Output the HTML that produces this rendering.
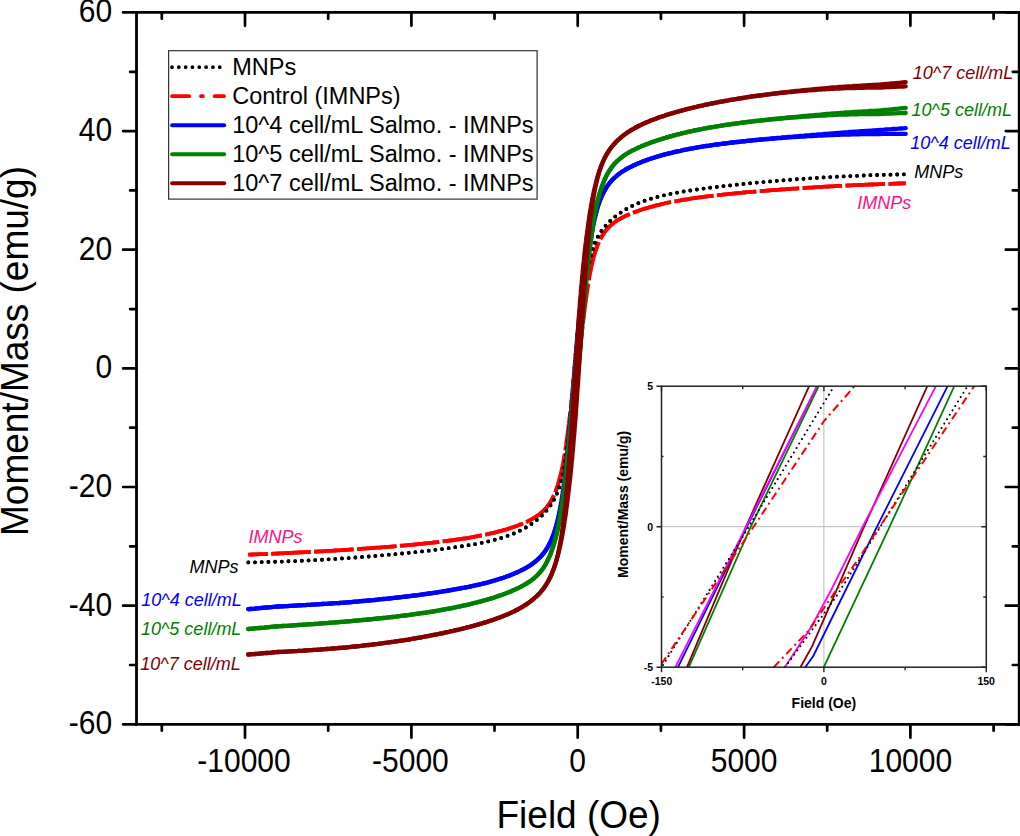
<!DOCTYPE html>
<html><head><meta charset="utf-8"><style>
html,body{margin:0;padding:0;background:#fff;}
svg{display:block;}
text{font-family:"Liberation Sans",sans-serif;}
</style></head><body>
<svg width="1020" height="836" viewBox="0 0 1020 836">
<rect x="0" y="0" width="1020" height="836" fill="#fff"/>

<path d="M123.1 724.3H136.5M1005.8 724.3H1019.2M130.1 665H136.5M1012.8 665H1019.2M123.1 605.7H136.5M1005.8 605.7H1019.2M130.1 546.4H136.5M1012.8 546.4H1019.2M123.1 487H136.5M1005.8 487H1019.2M130.1 427.7H136.5M1012.8 427.7H1019.2M123.1 368.4H136.5M1005.8 368.4H1019.2M130.1 309.1H136.5M1012.8 309.1H1019.2M123.1 249.7H136.5M1005.8 249.7H1019.2M130.1 190.4H136.5M1012.8 190.4H1019.2M123.1 131.1H136.5M1005.8 131.1H1019.2M130.1 71.8H136.5M1012.8 71.8H1019.2M123.1 12.4H136.5M1005.8 12.4H1019.2M161.8 724.3V730.7M161.8 12.4V18.8M245 724.3V737.7M245 12.4V25.8M328.2 724.3V730.7M328.2 12.4V18.8M411.4 724.3V737.7M411.4 12.4V25.8M494.5 724.3V730.7M494.5 12.4V18.8M577.7 724.3V737.7M577.7 12.4V25.8M660.9 724.3V730.7M660.9 12.4V18.8M744.1 724.3V737.7M744.1 12.4V25.8M827.2 724.3V730.7M827.2 12.4V18.8M910.4 724.3V737.7M910.4 12.4V25.8M993.6 724.3V730.7M993.6 12.4V18.8" stroke="#000" stroke-width="2.7" stroke-linecap="round" fill="none"/>
<path d="M136.5 12.4H1019.2V724.3H136.5Z" stroke="#000" stroke-width="2.8" fill="none"/>
<g font-size="30" fill="#000" text-anchor="end">
<text transform="translate(112.2 734.1) scale(1 1.08)">-60</text>
<text transform="translate(112.2 615.5) scale(1 1.08)">-40</text>
<text transform="translate(112.2 496.8) scale(1 1.08)">-20</text>
<text transform="translate(112.2 378.2) scale(1 1.08)">0</text>
<text transform="translate(112.2 259.5) scale(1 1.08)">20</text>
<text transform="translate(112.2 140.9) scale(1 1.08)">40</text>
<text transform="translate(112.2 22.2) scale(1 1.08)">60</text>
</g>
<g font-size="30" fill="#000" text-anchor="middle">
<text transform="translate(244 772.1) scale(1 1.08)">-10000</text>
<text transform="translate(410.4 772.1) scale(1 1.08)">-5000</text>
<text transform="translate(577.7 772.1) scale(1 1.08)">0</text>
<text transform="translate(744.1 772.1) scale(1 1.08)">5000</text>
<text transform="translate(910.4 772.1) scale(1 1.08)">10000</text>
</g>
<text transform="translate(578.7 828.2) scale(1 1.05)" font-size="37" text-anchor="middle">Field (Oe)</text>
<text transform="translate(28.2 351) rotate(-90) scale(1 1.05)" font-size="37" text-anchor="middle">Moment/Mass (emu/g)</text>
<path d="M248.3 554.7 L249.9 554.6 L252.3 554.5 L254.7 554.4 L257.1 554.3 L259.5 554.2 L261.9 554.1 L264.2 554.1 L266.6 554 L269 553.9 L271.3 553.8 L273.6 553.7 L275.9 553.6 L278.3 553.5 L280.6 553.4 L282.9 553.3 L285.1 553.2 L287.4 553.1 L289.7 553 L291.9 552.8 L294.2 552.7 L296.4 552.6 L298.6 552.5 L300.8 552.4 L303.1 552.3 L305.3 552.2 L307.4 552.1 L309.6 552 L311.8 551.8 L313.9 551.7 L316.1 551.6 L318.2 551.5 L320.4 551.4 L322.5 551.3 L324.6 551.1 L326.7 551 L328.8 550.9 L330.9 550.8 L332.9 550.7 L335 550.5 L337 550.4 L339.1 550.3 L341.1 550.2 L343.1 550 L345.2 549.9 L347.2 549.8 L349.2 549.6 L351.2 549.5 L353.1 549.4 L355.1 549.2 L357.1 549.1 L359 549 L360.9 548.8 L362.9 548.7 L364.8 548.6 L366.7 548.4 L368.6 548.3 L370.5 548.2 L372.4 548 L374.3 547.9 L376.1 547.7 L378 547.6 L379.8 547.5 L381.7 547.3 L383.5 547.2 L385.3 547 L387.1 546.9 L388.9 546.8 L390.7 546.6 L392.5 546.5 L394.2 546.3 L396 546.2 L397.8 546 L399.5 545.9 L401.2 545.7 L403 545.6 L404.7 545.4 L406.4 545.3 L408.1 545.1 L409.8 544.9 L411.4 544.8 L413.1 544.6 L414.8 544.5 L416.4 544.3 L418.1 544.2 L419.7 544 L421.3 543.8 L422.9 543.7 L424.5 543.5 L426.1 543.3 L427.7 543.2 L429.3 543 L430.9 542.8 L432.4 542.7 L434 542.5 L435.5 542.3 L437.1 542.1 L438.6 542 L440.1 541.8 L441.6 541.6 L443.1 541.4 L444.6 541.2 L446.1 541.1 L447.5 540.9 L449 540.7 L450.4 540.5 L451.9 540.3 L453.3 540.1 L454.7 539.9 L456.2 539.7 L457.6 539.5 L459 539.3 L460.4 539.1 L461.7 538.9 L463.1 538.7 L464.5 538.5 L465.8 538.3 L467.2 538.1 L468.5 537.8 L469.8 537.6 L471.1 537.4 L472.5 537.2 L473.8 536.9 L475 536.7 L476.3 536.5 L477.6 536.2 L478.9 536 L480.1 535.7 L481.4 535.5 L482.6 535.3 L483.8 535 L485.1 534.7 L486.3 534.5 L487.5 534.2 L488.7 534 L489.9 533.7 L491 533.4 L492.2 533.2 L493.4 532.9 L494.5 532.6 L495.7 532.3 L496.8 532 L497.9 531.7 L499 531.4 L500.1 531.1 L501.2 530.8 L502.3 530.5 L503.4 530.2 L504.5 529.9 L505.6 529.6 L506.6 529.3 L507.7 529 L508.7 528.6 L509.7 528.3 L510.8 528 L511.8 527.6 L512.8 527.3 L513.8 527 L514.8 526.6 L515.7 526.3 L516.7 525.9 L517.7 525.5 L518.6 525.2 L519.6 524.8 L520.5 524.4 L521.5 524.1 L523.3 523.3 L525.1 522.5 L526.9 521.7 L528.6 520.9 L530.3 520 L532 519.1 L533.6 518.1 L535.2 517.2 L536.8 516.1 L538.3 515.1 L539.9 513.9 L541.3 512.7 L542.8 511.4 L544.2 510 L544.9 509.3 L545.6 508.5 L546.3 507.8 L546.9 507 L547.6 506.1 L548.2 505.2 L548.9 504.3 L549.5 503.4 L550.2 502.4 L550.8 501.4 L551.4 500.3 L552 499.2 L552.6 498.1 L553.2 496.9 L553.8 495.7 L554.4 494.4 L554.9 493.1 L555.5 491.8 L556.1 490.4 L556.6 489 L557.1 487.5 L557.7 485.9 L558.2 484.4 L558.7 482.8 L559.2 481.1 L559.7 479.4 L560.2 477.7 L560.7 476 L561.2 474.2 L561.7 472.3 L562.1 470.5 L562.6 468.6 L563 466.7 L563.5 464.8 L563.9 462.8 L564.3 460.8 L564.7 458.8 L565.2 456.8 L565.6 454.8 L566 452.8 L566.3 450.7 L566.7 448.7 L567.1 446.6 L567.5 444.6 L567.8 442.5 L568.2 440.4 L568.5 438.4 L568.9 436.3 L569.2 434.3 L569.5 432.3 L569.9 430.2 L570.2 428.2 L570.5 426.2 L570.8 424.2 L571.1 422.3 L571.4 420.3 L571.6 418.4 L571.9 416.5 L572.2 414.6 L572.4 412.8 L572.7 410.9 L572.9 409.1 L573.2 407.3 L573.4 405.6 L573.6 403.9 L573.8 402.2 L574.1 400.6 L574.3 399 L574.5 397.4 L574.6 395.9 L574.8 394.4 L575 393 L575.2 391.6 L575.4 390.2 L575.5 388.9 L575.7 387.6 L575.8 386.4 L576 385.2 L576.1 384.1 L576.2 383 L576.4 381.9 L576.5 380.9 L576.7 379.1 L576.9 377.4 L577.1 375.9 L577.2 374.6 L577.3 373.5 L577.5 372.1 L577.6 370.9 L577.8 369.9 L577.9 368.8 L578 367.6 L578.1 366.6 L578.3 365.3 L578.4 363.9 L578.6 362.3 L578.8 360.4 L578.9 359.4 L579 358.4 L579.2 357.3 L579.3 356.1 L579.4 354.9 L579.6 353.6 L579.7 352.3 L579.9 350.9 L580 349.5 L580.2 348 L580.4 346.4 L580.6 344.8 L580.8 343.2 L580.9 341.5 L581.1 339.7 L581.3 337.9 L581.6 336 L581.8 334.1 L582 332.1 L582.2 330.1 L582.5 328 L582.7 325.9 L583 323.8 L583.2 321.6 L583.5 319.4 L583.8 317.1 L584 314.8 L584.3 312.5 L584.6 310.2 L584.9 307.8 L585.2 305.5 L585.5 303.1 L585.9 300.7 L586.2 298.3 L586.5 295.9 L586.9 293.5 L587.2 291.1 L587.6 288.8 L587.9 286.4 L588.3 284.1 L588.7 281.8 L589.1 279.5 L589.4 277.3 L589.8 275.1 L590.2 272.9 L590.7 270.8 L591.1 268.7 L591.5 266.7 L591.9 264.7 L592.4 262.8 L592.8 260.9 L593.3 259.1 L593.7 257.3 L594.2 255.6 L594.7 253.9 L595.2 252.3 L595.7 250.8 L596.2 249.3 L596.7 247.8 L597.2 246.4 L597.7 245 L598.3 243.7 L598.8 242.5 L599.3 241.3 L599.9 240.1 L600.5 239 L601 237.9 L601.6 236.9 L602.2 235.9 L602.8 234.9 L603.4 234 L604 233.1 L604.6 232.2 L605.2 231.4 L605.9 230.5 L606.5 229.8 L607.8 228.3 L609.1 226.9 L610.5 225.6 L611.9 224.4 L613.3 223.3 L614.8 222.2 L616.3 221.2 L617.8 220.2 L619.4 219.2 L621 218.3 L622.6 217.5 L624.2 216.6 L625.9 215.8 L627.7 215 L629.4 214.3 L631.2 213.5 L633 212.8 L634.9 212.1 L635.8 211.7 L636.8 211.4 L637.7 211 L638.7 210.7 L639.7 210.3 L640.6 210 L641.6 209.7 L642.6 209.3 L643.6 209 L644.6 208.7 L645.7 208.4 L646.7 208.1 L647.7 207.8 L648.8 207.5 L649.8 207.2 L650.9 206.9 L652 206.6 L653.1 206.3 L654.2 206 L655.3 205.7 L656.4 205.4 L657.5 205.1 L658.6 204.8 L659.7 204.6 L660.9 204.3 L662 204 L663.2 203.8 L664.4 203.5 L665.5 203.2 L666.7 203 L667.9 202.7 L669.1 202.5 L670.3 202.2 L671.6 202 L672.8 201.7 L674 201.5 L675.3 201.3 L676.5 201 L677.8 200.8 L679.1 200.6 L680.4 200.4 L681.6 200.1 L682.9 199.9 L684.3 199.7 L685.6 199.5 L686.9 199.3 L688.2 199.1 L689.6 198.8 L690.9 198.6 L692.3 198.4 L693.7 198.2 L695 198 L696.4 197.8 L697.8 197.6 L699.2 197.4 L700.7 197.3 L702.1 197.1 L703.5 196.9 L705 196.7 L706.4 196.5 L707.9 196.3 L709.3 196.1 L710.8 196 L712.3 195.8 L713.8 195.6 L715.3 195.4 L716.8 195.3 L718.3 195.1 L719.9 194.9 L721.4 194.8 L723 194.6 L724.5 194.4 L726.1 194.3 L727.7 194.1 L729.3 193.9 L730.9 193.8 L732.5 193.6 L734.1 193.5 L735.7 193.3 L737.3 193.1 L739 193 L740.6 192.8 L742.3 192.7 L744 192.5 L745.6 192.4 L747.3 192.2 L749 192.1 L750.7 191.9 L752.4 191.8 L754.2 191.6 L755.9 191.5 L757.6 191.3 L759.4 191.2 L761.2 191.1 L762.9 190.9 L764.7 190.8 L766.5 190.6 L768.3 190.5 L770.1 190.4 L771.9 190.2 L773.7 190.1 L775.6 189.9 L777.4 189.8 L779.3 189.7 L781.1 189.5 L783 189.4 L784.9 189.3 L786.8 189.1 L788.7 189 L790.6 188.9 L792.5 188.7 L794.5 188.6 L796.4 188.5 L798.3 188.3 L800.3 188.2 L802.3 188.1 L804.2 188 L806.2 187.8 L808.2 187.7 L810.2 187.6 L812.3 187.5 L814.3 187.3 L816.3 187.2 L818.4 187.1 L820.4 187 L822.5 186.8 L824.5 186.7 L826.6 186.6 L828.7 186.5 L830.8 186.4 L832.9 186.3 L835 186.1 L837.2 186 L839.3 185.9 L841.5 185.8 L843.6 185.7 L845.8 185.6 L848 185.5 L850.1 185.4 L852.3 185.3 L854.6 185.2 L856.8 185.1 L859 185 L861.2 184.9 L863.5 184.8 L865.7 184.7 L868 184.6 L870.3 184.5 L872.5 184.5 L874.8 184.4 L877.1 184.3 L879.5 184.2 L881.8 184.1 L884.1 184 L886.4 183.9 L888.8 183.9 L891.2 183.8 L893.5 183.7 L895.9 183.6 L898.3 183.5 L900.7 183.5 L903.1 183.4 L905.5 183.3 L905.7 183.3" stroke="#ff0000" stroke-width="3.8" stroke-dasharray="39.5 3.5" stroke-dashoffset="20" fill="none"/>
<path d="M248.3 554.7 L249.9 554.6 L252.3 554.5 L254.7 554.4 L257.1 554.3 L259.5 554.2 L261.9 554.1 L264.2 554.1 L266.6 554 L269 553.9 L271.3 553.8 L273.6 553.7 L275.9 553.6 L278.3 553.5 L280.6 553.4 L282.9 553.3 L285.1 553.2 L287.4 553.1 L289.7 553 L291.9 552.8 L294.2 552.7 L296.4 552.6 L298.6 552.5 L300.8 552.4 L303.1 552.3 L305.3 552.2 L307.4 552.1 L309.6 552 L311.8 551.8 L313.9 551.7 L316.1 551.6 L318.2 551.5 L320.4 551.4 L322.5 551.3 L324.6 551.1 L326.7 551 L328.8 550.9 L330.9 550.8 L332.9 550.7 L335 550.5 L337 550.4 L339.1 550.3 L341.1 550.2 L343.1 550 L345.2 549.9 L347.2 549.8 L349.2 549.6 L351.2 549.5 L353.1 549.4 L355.1 549.2 L357.1 549.1 L359 549 L360.9 548.8 L362.9 548.7 L364.8 548.6 L366.7 548.4 L368.6 548.3 L370.5 548.2 L372.4 548 L374.3 547.9 L376.1 547.7 L378 547.6 L379.8 547.5 L381.7 547.3 L383.5 547.2 L385.3 547 L387.1 546.9 L388.9 546.8 L390.7 546.6 L392.5 546.5 L394.2 546.3 L396 546.2 L397.8 546 L399.5 545.9 L401.2 545.7 L403 545.6 L404.7 545.4 L406.4 545.3 L408.1 545.1 L409.8 544.9 L411.4 544.8 L413.1 544.6 L414.8 544.5 L416.4 544.3 L418.1 544.2 L419.7 544 L421.3 543.8 L422.9 543.7 L424.5 543.5 L426.1 543.3 L427.7 543.2 L429.3 543 L430.9 542.8 L432.4 542.7 L434 542.5 L435.5 542.3 L437.1 542.1 L438.6 542 L440.1 541.8 L441.6 541.6 L443.1 541.4 L444.6 541.2 L446.1 541.1 L447.5 540.9 L449 540.7 L450.4 540.5 L451.9 540.3 L453.3 540.1 L454.7 539.9 L456.2 539.7 L457.6 539.5 L459 539.3 L460.4 539.1 L461.7 538.9 L463.1 538.7 L464.5 538.5 L465.8 538.3 L467.2 538.1 L468.5 537.8 L469.8 537.6 L471.1 537.4 L472.5 537.2 L473.8 536.9 L475 536.7 L476.3 536.5 L477.6 536.2 L478.9 536 L480.1 535.7 L481.4 535.5 L482.6 535.3 L483.8 535 L485.1 534.7 L486.3 534.5 L487.5 534.2 L488.7 534 L489.9 533.7 L491 533.4 L492.2 533.2 L493.4 532.9 L494.5 532.6 L495.7 532.3 L496.8 532 L497.9 531.7 L499 531.4 L500.1 531.1 L501.2 530.8 L502.3 530.5 L503.4 530.2 L504.5 529.9 L505.6 529.6 L506.6 529.3 L507.7 529 L508.7 528.6 L509.7 528.3 L510.8 528 L511.8 527.6 L512.8 527.3 L513.8 527 L514.8 526.6 L515.7 526.3 L516.7 525.9 L517.7 525.5 L518.6 525.2 L519.6 524.8 L520.5 524.4 L521.5 524.1 L523.3 523.3 L525.1 522.5 L526.9 521.7 L528.6 520.9 L530.3 520 L532 519.1 L533.6 518.1 L535.2 517.2 L536.8 516.1 L538.3 515.1 L539.9 513.9 L541.3 512.7 L542.8 511.4 L544.2 510 L544.9 509.3 L545.6 508.5 L546.3 507.8 L546.9 506.9 L547.6 506.1 L548.2 505.2 L548.9 504.3 L549.5 503.4 L550.2 502.4 L550.8 501.3 L551.4 500.3 L552 499.1 L552.6 498 L553.2 496.8 L553.8 495.5 L554.4 494.2 L554.9 492.9 L555.5 491.4 L556.1 490 L556.6 488.4 L557.1 486.9 L557.7 485.2 L558.2 483.5 L558.7 481.7 L559.2 479.9 L559.7 478 L560.2 476 L560.7 474 L561.2 471.9 L561.7 469.8 L562.1 467.6 L562.6 465.3 L563 463 L563.5 460.6 L563.9 458.1 L564.3 455.6 L564.7 453.1 L565.2 450.5 L565.6 447.9 L566 445.2 L566.3 442.5 L566.7 439.8 L567.1 437.1 L567.5 434.3 L567.8 431.6 L568.2 428.8 L568.5 426 L568.9 423.3 L569.2 420.5 L569.5 417.7 L569.9 415 L570.2 412.3 L570.5 409.6 L570.8 407 L571.1 404.4 L571.4 401.8 L571.6 399.3 L571.9 396.8 L572.2 394.4 L572.4 392 L572.7 389.7 L572.9 387.5 L573.2 385.3 L573.4 383.1 L573.6 381 L573.8 379 L574.1 377 L574.3 375.1 L574.5 373.3 L574.6 371.5 L574.8 369.8 L575 368.2 L575.2 366.6 L575.4 365.1 L575.5 363.6 L575.7 362.2 L575.8 360.9 L576 359.6 L576.1 358.4 L576.2 357.2 L576.4 356.1 L576.5 355.1 L576.7 353.1 L576.9 351.4 L577.1 349.9 L577.2 348.6 L577.3 347.5 L577.5 346.2 L577.6 345 L577.8 343.9 L577.9 342.6 L578.1 341.3 L578.2 340.2 L578.3 339 L578.5 337.6 L578.7 336 L578.9 334.2 L579.2 332.3 L579.3 331.2 L579.4 330.2 L579.6 329.1 L579.7 327.9 L579.9 326.7 L580 325.5 L580.2 324.2 L580.4 322.9 L580.6 321.6 L580.8 320.3 L580.9 318.9 L581.1 317.4 L581.3 316 L581.6 314.5 L581.8 313 L582 311.4 L582.2 309.9 L582.5 308.3 L582.7 306.7 L583 305.1 L583.2 303.4 L583.5 301.8 L583.8 300.1 L584 298.4 L584.3 296.8 L584.6 295.1 L584.9 293.3 L585.2 291.6 L585.5 289.9 L585.9 288.2 L586.2 286.5 L586.5 284.7 L586.9 283 L587.2 281.3 L587.6 279.6 L587.9 277.9 L588.3 276.1 L588.7 274.5 L589.1 272.8 L589.4 271.1 L589.8 269.4 L590.2 267.8 L590.7 266.1 L591.1 264.5 L591.5 262.9 L591.9 261.4 L592.4 259.8 L592.8 258.3 L593.3 256.8 L593.7 255.3 L594.2 253.8 L594.7 252.4 L595.2 251 L595.7 249.6 L596.2 248.3 L596.7 247 L597.2 245.7 L597.7 244.5 L598.3 243.3 L598.8 242.1 L599.3 240.9 L599.9 239.8 L600.5 238.8 L601 237.7 L601.6 236.7 L602.2 235.7 L602.8 234.8 L603.4 233.9 L604 233 L604.6 232.1 L605.2 231.3 L605.9 230.5 L606.5 229.8 L607.8 228.3 L609.1 226.9 L610.5 225.6 L611.9 224.4 L613.3 223.3 L614.8 222.2 L616.3 221.2 L617.8 220.2 L619.4 219.2 L621 218.3 L622.6 217.5 L624.2 216.6 L625.9 215.8 L627.7 215 L629.4 214.3 L631.2 213.5 L633 212.8 L634.9 212.1 L635.8 211.7 L636.8 211.4 L637.7 211 L638.7 210.7 L639.7 210.3 L640.6 210 L641.6 209.7 L642.6 209.3 L643.6 209 L644.6 208.7 L645.7 208.4 L646.7 208.1 L647.7 207.8 L648.8 207.5 L649.8 207.2 L650.9 206.9 L652 206.6 L653.1 206.3 L654.2 206 L655.3 205.7 L656.4 205.4 L657.5 205.1 L658.6 204.8 L659.7 204.6 L660.9 204.3 L662 204 L663.2 203.8 L664.4 203.5 L665.5 203.2 L666.7 203 L667.9 202.7 L669.1 202.5 L670.3 202.2 L671.6 202 L672.8 201.7 L674 201.5 L675.3 201.3 L676.5 201 L677.8 200.8 L679.1 200.6 L680.4 200.4 L681.6 200.1 L682.9 199.9 L684.3 199.7 L685.6 199.5 L686.9 199.3 L688.2 199.1 L689.6 198.8 L690.9 198.6 L692.3 198.4 L693.7 198.2 L695 198 L696.4 197.8 L697.8 197.6 L699.2 197.4 L700.7 197.3 L702.1 197.1 L703.5 196.9 L705 196.7 L706.4 196.5 L707.9 196.3 L709.3 196.1 L710.8 196 L712.3 195.8 L713.8 195.6 L715.3 195.4 L716.8 195.3 L718.3 195.1 L719.9 194.9 L721.4 194.8 L723 194.6 L724.5 194.4 L726.1 194.3 L727.7 194.1 L729.3 193.9 L730.9 193.8 L732.5 193.6 L734.1 193.5 L735.7 193.3 L737.3 193.1 L739 193 L740.6 192.8 L742.3 192.7 L744 192.5 L745.6 192.4 L747.3 192.2 L749 192.1 L750.7 191.9 L752.4 191.8 L754.2 191.6 L755.9 191.5 L757.6 191.3 L759.4 191.2 L761.2 191.1 L762.9 190.9 L764.7 190.8 L766.5 190.6 L768.3 190.5 L770.1 190.4 L771.9 190.2 L773.7 190.1 L775.6 189.9 L777.4 189.8 L779.3 189.7 L781.1 189.5 L783 189.4 L784.9 189.3 L786.8 189.1 L788.7 189 L790.6 188.9 L792.5 188.7 L794.5 188.6 L796.4 188.5 L798.3 188.3 L800.3 188.2 L802.3 188.1 L804.2 188 L806.2 187.8 L808.2 187.7 L810.2 187.6 L812.3 187.5 L814.3 187.3 L816.3 187.2 L818.4 187.1 L820.4 187 L822.5 186.8 L824.5 186.7 L826.6 186.6 L828.7 186.5 L830.8 186.4 L832.9 186.3 L835 186.1 L837.2 186 L839.3 185.9 L841.5 185.8 L843.6 185.7 L845.8 185.6 L848 185.5 L850.1 185.4 L852.3 185.3 L854.6 185.2 L856.8 185.1 L859 185 L861.2 184.9 L863.5 184.8 L865.7 184.7 L868 184.6 L870.3 184.5 L872.5 184.5 L874.8 184.4 L877.1 184.3 L879.5 184.2 L881.8 184.1 L884.1 184 L886.4 183.9 L888.8 183.9 L891.2 183.8 L893.5 183.7 L895.9 183.6 L898.3 183.5 L900.7 183.5 L903.1 183.4 L905.5 183.3 L905.7 183.3" stroke="#ff0000" stroke-width="3.8" stroke-dasharray="39.5 3.5" stroke-dashoffset="20" fill="none"/>
<path d="M248.3 562.4 L249.9 562.4 L252.3 562.3 L254.7 562.3 L257.1 562.2 L259.5 562.2 L261.9 562.1 L264.2 562.1 L266.6 562 L269 561.9 L271.3 561.9 L273.6 561.8 L275.9 561.7 L278.3 561.7 L280.6 561.6 L282.9 561.5 L285.1 561.4 L287.4 561.3 L289.7 561.2 L291.9 561.2 L294.2 561.1 L296.4 561 L298.6 560.9 L300.8 560.8 L303.1 560.7 L305.3 560.6 L307.4 560.5 L309.6 560.4 L311.8 560.2 L313.9 560.1 L316.1 560 L318.2 559.9 L320.4 559.8 L322.5 559.7 L324.6 559.5 L326.7 559.4 L328.8 559.3 L330.9 559.2 L332.9 559 L335 558.9 L337 558.8 L339.1 558.6 L341.1 558.5 L343.1 558.4 L345.2 558.2 L347.2 558.1 L349.2 558 L351.2 557.8 L353.1 557.7 L355.1 557.5 L357.1 557.4 L359 557.2 L360.9 557.1 L362.9 556.9 L364.8 556.8 L366.7 556.6 L368.6 556.5 L370.5 556.3 L372.4 556.2 L374.3 556 L376.1 555.9 L378 555.7 L379.8 555.5 L381.7 555.4 L383.5 555.2 L385.3 555.1 L387.1 554.9 L388.9 554.7 L390.7 554.6 L392.5 554.4 L394.2 554.2 L396 554.1 L397.8 553.9 L399.5 553.7 L401.2 553.6 L403 553.4 L404.7 553.2 L406.4 553 L408.1 552.9 L409.8 552.7 L411.4 552.5 L413.1 552.3 L414.8 552.2 L416.4 552 L418.1 551.8 L419.7 551.6 L421.3 551.5 L422.9 551.3 L424.5 551.1 L426.1 550.9 L427.7 550.7 L429.3 550.6 L430.9 550.4 L432.4 550.2 L434 550 L435.5 549.8 L437.1 549.6 L438.6 549.4 L440.1 549.3 L441.6 549.1 L443.1 548.9 L444.6 548.7 L446.1 548.5 L447.5 548.3 L449 548.1 L450.4 547.9 L451.9 547.7 L453.3 547.5 L454.7 547.3 L456.2 547.1 L457.6 546.9 L459 546.7 L460.4 546.5 L461.7 546.3 L463.1 546.1 L464.5 545.9 L465.8 545.6 L467.2 545.4 L468.5 545.2 L469.8 545 L471.1 544.8 L472.5 544.5 L473.8 544.3 L475 544.1 L476.3 543.8 L477.6 543.6 L478.9 543.4 L480.1 543.1 L481.4 542.9 L482.6 542.6 L483.8 542.4 L485.1 542.1 L486.3 541.8 L487.5 541.6 L488.7 541.3 L489.9 541 L491 540.7 L492.2 540.4 L493.4 540.1 L494.5 539.8 L495.7 539.5 L496.8 539.2 L497.9 538.9 L499 538.6 L500.1 538.3 L501.2 538 L502.3 537.6 L503.4 537.3 L504.5 536.9 L505.6 536.6 L506.6 536.2 L507.7 535.8 L508.7 535.5 L509.7 535.1 L510.8 534.7 L511.8 534.3 L512.8 533.9 L513.8 533.5 L514.8 533 L515.7 532.6 L516.7 532.2 L517.7 531.7 L518.6 531.3 L519.6 530.8 L520.5 530.4 L521.5 529.9 L522.4 529.4 L523.3 528.9 L524.2 528.4 L525.1 527.9 L526 527.4 L526.9 526.9 L527.7 526.3 L528.6 525.8 L529.5 525.2 L530.3 524.7 L531.2 524.1 L532 523.5 L532.8 523 L533.6 522.4 L534.4 521.8 L535.2 521.2 L536 520.5 L536.8 519.9 L537.6 519.3 L538.3 518.6 L539.1 518 L539.9 517.3 L540.6 516.6 L541.3 516 L542.1 515.3 L542.8 514.6 L543.5 513.8 L544.2 513.1 L544.9 512.4 L545.6 511.6 L546.3 510.8 L546.9 510.1 L547.6 509.3 L548.2 508.4 L548.9 507.6 L549.5 506.7 L550.2 505.9 L550.8 505 L551.4 504 L552 503.1 L552.6 502.1 L553.2 501.1 L553.8 500.1 L554.4 499 L554.9 498 L555.5 496.8 L556.1 495.7 L556.6 494.5 L557.1 493.3 L557.7 492 L558.2 490.7 L558.7 489.3 L559.2 487.9 L559.7 486.5 L560.2 485 L560.7 483.5 L561.2 482 L561.7 480.4 L562.1 478.7 L562.6 477.1 L563 475.3 L563.5 473.6 L563.9 471.8 L564.3 469.9 L564.7 468 L565.2 466.1 L565.6 464.1 L566 462.2 L566.3 460.1 L566.7 458.1 L567.1 456 L567.5 453.9 L567.8 451.8 L568.2 449.6 L568.5 447.4 L568.9 445.2 L569.2 443 L569.5 440.8 L569.9 438.6 L570.2 436.4 L570.5 434.1 L570.8 431.9 L571.1 429.6 L571.4 427.4 L571.6 425.2 L571.9 423 L572.2 420.8 L572.4 418.6 L572.7 416.4 L572.9 414.2 L573.2 412.1 L573.4 410 L573.6 407.9 L573.8 405.9 L574.1 403.9 L574.3 401.9 L574.5 400 L574.6 398.1 L574.8 396.3 L575 394.5 L575.2 392.8 L575.4 391.1 L575.5 389.4 L575.7 387.8 L575.8 386.3 L576 384.8 L576.1 383.4 L576.2 382 L576.4 380.7 L576.5 379.4 L576.6 378.2 L576.7 377.1 L576.8 376 L576.9 374.9 L577.1 373.1 L577.2 371.4 L577.3 370 L577.4 368.8 L577.6 367.4 L577.7 366.4 L577.8 365.2 L577.9 364.1 L578 362.6 L578.1 361.3 L578.3 359.7 L578.4 357.9 L578.6 355.9 L578.7 354.7 L578.8 353.6 L578.9 352.3 L579 351 L579.2 349.6 L579.3 348.2 L579.4 346.6 L579.6 345.1 L579.7 343.4 L579.9 341.7 L580 339.9 L580.2 338.1 L580.4 336.2 L580.6 334.2 L580.8 332.2 L580.9 330.2 L581.1 328 L581.3 325.8 L581.6 323.6 L581.8 321.3 L582 319 L582.2 316.7 L582.5 314.3 L582.7 311.9 L583 309.4 L583.2 307 L583.5 304.5 L583.8 302 L584 299.5 L584.3 297 L584.6 294.5 L584.9 292 L585.2 289.5 L585.5 287.1 L585.9 284.7 L586.2 282.3 L586.5 279.9 L586.9 277.6 L587.2 275.3 L587.6 273.1 L587.9 271 L588.3 268.8 L588.7 266.8 L589.1 264.8 L589.4 262.8 L589.8 260.9 L590.2 259.1 L590.7 257.3 L591.1 255.6 L591.5 254 L591.9 252.4 L592.4 250.9 L592.8 249.4 L593.3 248 L593.7 246.6 L594.2 245.3 L594.7 244 L595.2 242.8 L595.7 241.6 L596.2 240.5 L596.7 239.3 L597.2 238.3 L597.7 237.2 L598.3 236.3 L598.8 235.3 L599.3 234.3 L599.9 233.4 L600.5 232.5 L601 231.7 L601.6 230.8 L602.2 230 L603.4 228.4 L604.6 226.9 L605.9 225.4 L607.2 224 L608.5 222.6 L609.8 221.3 L611.2 220 L612.6 218.7 L614.1 217.5 L615.5 216.3 L617.1 215.2 L618.6 214 L620.2 212.9 L621.8 211.8 L623.4 210.8 L625.1 209.7 L626.8 208.8 L628.5 207.8 L630.3 206.9 L631.2 206.4 L632.1 205.9 L633 205.5 L633.9 205.1 L634.9 204.6 L635.8 204.2 L636.8 203.8 L637.7 203.4 L638.7 203 L639.7 202.6 L640.6 202.2 L641.6 201.8 L642.6 201.5 L643.6 201.1 L644.6 200.7 L645.7 200.4 L646.7 200 L647.7 199.7 L648.8 199.3 L649.8 199 L650.9 198.7 L652 198.4 L653.1 198.1 L654.2 197.8 L655.3 197.5 L656.4 197.2 L657.5 196.9 L658.6 196.6 L659.7 196.3 L660.9 196 L662 195.7 L663.2 195.5 L664.4 195.2 L665.5 194.9 L666.7 194.7 L667.9 194.4 L669.1 194.2 L670.3 193.9 L671.6 193.7 L672.8 193.4 L674 193.2 L675.3 193 L676.5 192.7 L677.8 192.5 L679.1 192.3 L680.4 192.1 L681.6 191.8 L682.9 191.6 L684.3 191.4 L685.6 191.2 L686.9 191 L688.2 190.8 L689.6 190.6 L690.9 190.4 L692.3 190.2 L693.7 190 L695 189.8 L696.4 189.6 L697.8 189.4 L699.2 189.2 L700.7 189 L702.1 188.8 L703.5 188.6 L705 188.4 L706.4 188.2 L707.9 188 L709.3 187.8 L710.8 187.6 L712.3 187.4 L713.8 187.3 L715.3 187.1 L716.8 186.9 L718.3 186.7 L719.9 186.5 L721.4 186.3 L723 186.2 L724.5 186 L726.1 185.8 L727.7 185.6 L729.3 185.5 L730.9 185.3 L732.5 185.1 L734.1 184.9 L735.7 184.8 L737.3 184.6 L739 184.4 L740.6 184.2 L742.3 184.1 L744 183.9 L745.6 183.7 L747.3 183.5 L749 183.4 L750.7 183.2 L752.4 183 L754.2 182.9 L755.9 182.7 L757.6 182.5 L759.4 182.4 L761.2 182.2 L762.9 182.1 L764.7 181.9 L766.5 181.7 L768.3 181.6 L770.1 181.4 L771.9 181.3 L773.7 181.1 L775.6 180.9 L777.4 180.8 L779.3 180.6 L781.1 180.5 L783 180.3 L784.9 180.2 L786.8 180 L788.7 179.9 L790.6 179.7 L792.5 179.6 L794.5 179.4 L796.4 179.3 L798.3 179.1 L800.3 179 L802.3 178.9 L804.2 178.7 L806.2 178.6 L808.2 178.4 L810.2 178.3 L812.3 178.2 L814.3 178 L816.3 177.9 L818.4 177.8 L820.4 177.7 L822.5 177.5 L824.5 177.4 L826.6 177.3 L828.7 177.2 L830.8 177 L832.9 176.9 L835 176.8 L837.2 176.7 L839.3 176.6 L841.5 176.5 L843.6 176.4 L845.8 176.3 L848 176.2 L850.1 176.1 L852.3 176 L854.6 175.9 L856.8 175.8 L859 175.7 L861.2 175.6 L863.5 175.5 L865.7 175.4 L868 175.3 L870.3 175.2 L872.5 175.2 L874.8 175.1 L877.1 175 L879.5 174.9 L881.8 174.9 L884.1 174.8 L886.4 174.8 L888.8 174.7 L891.2 174.6 L893.5 174.6 L895.9 174.5 L898.3 174.5 L900.7 174.4 L903.1 174.4 L905.5 174.3 L905.7 174.3" stroke="#000" stroke-width="3.8" stroke-linecap="round" stroke-dasharray="0 6.7" fill="none"/>
<path d="M248.3 562.4 L249.9 562.4 L252.3 562.3 L254.7 562.3 L257.1 562.2 L259.5 562.2 L261.9 562.1 L264.2 562.1 L266.6 562 L269 561.9 L271.3 561.9 L273.6 561.8 L275.9 561.7 L278.3 561.7 L280.6 561.6 L282.9 561.5 L285.1 561.4 L287.4 561.3 L289.7 561.2 L291.9 561.2 L294.2 561.1 L296.4 561 L298.6 560.9 L300.8 560.8 L303.1 560.7 L305.3 560.6 L307.4 560.5 L309.6 560.4 L311.8 560.2 L313.9 560.1 L316.1 560 L318.2 559.9 L320.4 559.8 L322.5 559.7 L324.6 559.5 L326.7 559.4 L328.8 559.3 L330.9 559.2 L332.9 559 L335 558.9 L337 558.8 L339.1 558.6 L341.1 558.5 L343.1 558.4 L345.2 558.2 L347.2 558.1 L349.2 558 L351.2 557.8 L353.1 557.7 L355.1 557.5 L357.1 557.4 L359 557.2 L360.9 557.1 L362.9 556.9 L364.8 556.8 L366.7 556.6 L368.6 556.5 L370.5 556.3 L372.4 556.2 L374.3 556 L376.1 555.9 L378 555.7 L379.8 555.5 L381.7 555.4 L383.5 555.2 L385.3 555.1 L387.1 554.9 L388.9 554.7 L390.7 554.6 L392.5 554.4 L394.2 554.2 L396 554.1 L397.8 553.9 L399.5 553.7 L401.2 553.6 L403 553.4 L404.7 553.2 L406.4 553 L408.1 552.9 L409.8 552.7 L411.4 552.5 L413.1 552.3 L414.8 552.2 L416.4 552 L418.1 551.8 L419.7 551.6 L421.3 551.5 L422.9 551.3 L424.5 551.1 L426.1 550.9 L427.7 550.7 L429.3 550.6 L430.9 550.4 L432.4 550.2 L434 550 L435.5 549.8 L437.1 549.6 L438.6 549.4 L440.1 549.3 L441.6 549.1 L443.1 548.9 L444.6 548.7 L446.1 548.5 L447.5 548.3 L449 548.1 L450.4 547.9 L451.9 547.7 L453.3 547.5 L454.7 547.3 L456.2 547.1 L457.6 546.9 L459 546.7 L460.4 546.5 L461.7 546.3 L463.1 546.1 L464.5 545.9 L465.8 545.6 L467.2 545.4 L468.5 545.2 L469.8 545 L471.1 544.8 L472.5 544.5 L473.8 544.3 L475 544.1 L476.3 543.8 L477.6 543.6 L478.9 543.4 L480.1 543.1 L481.4 542.9 L482.6 542.6 L483.8 542.4 L485.1 542.1 L486.3 541.8 L487.5 541.6 L488.7 541.3 L489.9 541 L491 540.7 L492.2 540.4 L493.4 540.1 L494.5 539.8 L495.7 539.5 L496.8 539.2 L497.9 538.9 L499 538.6 L500.1 538.3 L501.2 538 L502.3 537.6 L503.4 537.3 L504.5 536.9 L505.6 536.6 L506.6 536.2 L507.7 535.8 L508.7 535.5 L509.7 535.1 L510.8 534.7 L511.8 534.3 L512.8 533.9 L513.8 533.5 L514.8 533 L515.7 532.6 L516.7 532.2 L517.7 531.7 L518.6 531.3 L519.6 530.8 L520.5 530.4 L521.5 529.9 L522.4 529.4 L523.3 528.9 L524.2 528.4 L525.1 527.9 L526 527.4 L526.9 526.9 L527.7 526.3 L528.6 525.8 L529.5 525.2 L530.3 524.7 L531.2 524.1 L532 523.5 L532.8 523 L533.6 522.4 L534.4 521.8 L535.2 521.2 L536 520.5 L536.8 519.9 L537.6 519.3 L538.3 518.6 L539.1 518 L539.9 517.3 L540.6 516.6 L541.3 516 L542.1 515.3 L542.8 514.6 L543.5 513.8 L544.2 513.1 L544.9 512.4 L545.6 511.6 L546.3 510.8 L546.9 510 L547.6 509.2 L548.2 508.4 L548.9 507.6 L549.5 506.7 L550.2 505.8 L550.8 504.9 L551.4 504 L552 503 L552.6 502 L553.2 501 L553.8 499.9 L554.4 498.8 L554.9 497.7 L555.5 496.5 L556.1 495.3 L556.6 494 L557.1 492.7 L557.7 491.3 L558.2 489.9 L558.7 488.4 L559.2 486.8 L559.7 485.1 L560.2 483.4 L560.7 481.6 L561.2 479.8 L561.7 477.8 L562.1 475.8 L562.6 473.7 L563 471.5 L563.5 469.2 L563.9 466.8 L564.3 464.3 L564.7 461.8 L565.2 459.1 L565.6 456.4 L566 453.6 L566.3 450.7 L566.7 447.7 L567.1 444.7 L567.5 441.6 L567.8 438.5 L568.2 435.3 L568.5 432.1 L568.9 428.8 L569.2 425.5 L569.5 422.2 L569.9 418.9 L570.2 415.6 L570.5 412.3 L570.8 409 L571.1 405.8 L571.4 402.6 L571.6 399.4 L571.9 396.3 L572.2 393.2 L572.4 390.2 L572.7 387.2 L572.9 384.3 L573.2 381.5 L573.4 378.8 L573.6 376.1 L573.8 373.5 L574.1 371 L574.3 368.6 L574.5 366.2 L574.6 364 L574.8 361.8 L575 359.7 L575.2 357.7 L575.4 355.8 L575.5 354 L575.7 352.2 L575.8 350.6 L576 349 L576.1 347.4 L576.2 346 L576.4 344.6 L576.5 343.3 L576.6 342.1 L576.7 341 L576.8 339.9 L576.9 338.9 L577.1 337 L577.2 335.4 L577.3 334.1 L577.4 333 L577.6 331.7 L577.7 330.7 L577.8 329.6 L577.9 328.3 L578.1 326.7 L578.2 325.5 L578.3 324 L578.5 322.4 L578.7 320.5 L578.9 318.5 L579 317.4 L579.2 316.3 L579.3 315.1 L579.4 313.9 L579.6 312.6 L579.7 311.4 L579.9 310 L580 308.7 L580.2 307.3 L580.4 305.9 L580.6 304.4 L580.8 303 L580.9 301.5 L581.1 300 L581.3 298.4 L581.6 296.9 L581.8 295.3 L582 293.7 L582.2 292.2 L582.5 290.6 L582.7 289 L583 287.3 L583.2 285.7 L583.5 284.1 L583.8 282.5 L584 280.9 L584.3 279.3 L584.6 277.7 L584.9 276.2 L585.2 274.6 L585.5 273 L585.9 271.5 L586.2 270 L586.5 268.5 L586.9 267 L587.2 265.5 L587.6 264 L587.9 262.6 L588.3 261.2 L588.7 259.8 L589.1 258.4 L589.4 257.1 L589.8 255.8 L590.2 254.5 L590.7 253.2 L591.1 251.9 L591.5 250.7 L591.9 249.5 L592.4 248.3 L592.8 247.1 L593.3 246 L593.7 244.9 L594.2 243.8 L594.7 242.7 L595.2 241.7 L595.7 240.6 L596.2 239.6 L596.7 238.7 L597.2 237.7 L597.7 236.8 L598.3 235.8 L598.8 234.9 L599.3 234.1 L599.9 233.2 L600.5 232.3 L601 231.5 L602.2 229.9 L603.4 228.3 L604.6 226.8 L605.9 225.4 L607.2 224 L608.5 222.6 L609.8 221.3 L611.2 220 L612.6 218.7 L614.1 217.5 L615.5 216.3 L617.1 215.2 L618.6 214 L620.2 212.9 L621.8 211.8 L623.4 210.8 L625.1 209.7 L626.8 208.8 L628.5 207.8 L630.3 206.9 L631.2 206.4 L632.1 205.9 L633 205.5 L633.9 205.1 L634.9 204.6 L635.8 204.2 L636.8 203.8 L637.7 203.4 L638.7 203 L639.7 202.6 L640.6 202.2 L641.6 201.8 L642.6 201.5 L643.6 201.1 L644.6 200.7 L645.7 200.4 L646.7 200 L647.7 199.7 L648.8 199.3 L649.8 199 L650.9 198.7 L652 198.4 L653.1 198.1 L654.2 197.8 L655.3 197.5 L656.4 197.2 L657.5 196.9 L658.6 196.6 L659.7 196.3 L660.9 196 L662 195.7 L663.2 195.5 L664.4 195.2 L665.5 194.9 L666.7 194.7 L667.9 194.4 L669.1 194.2 L670.3 193.9 L671.6 193.7 L672.8 193.4 L674 193.2 L675.3 193 L676.5 192.7 L677.8 192.5 L679.1 192.3 L680.4 192.1 L681.6 191.8 L682.9 191.6 L684.3 191.4 L685.6 191.2 L686.9 191 L688.2 190.8 L689.6 190.6 L690.9 190.4 L692.3 190.2 L693.7 190 L695 189.8 L696.4 189.6 L697.8 189.4 L699.2 189.2 L700.7 189 L702.1 188.8 L703.5 188.6 L705 188.4 L706.4 188.2 L707.9 188 L709.3 187.8 L710.8 187.6 L712.3 187.4 L713.8 187.3 L715.3 187.1 L716.8 186.9 L718.3 186.7 L719.9 186.5 L721.4 186.3 L723 186.2 L724.5 186 L726.1 185.8 L727.7 185.6 L729.3 185.5 L730.9 185.3 L732.5 185.1 L734.1 184.9 L735.7 184.8 L737.3 184.6 L739 184.4 L740.6 184.2 L742.3 184.1 L744 183.9 L745.6 183.7 L747.3 183.5 L749 183.4 L750.7 183.2 L752.4 183 L754.2 182.9 L755.9 182.7 L757.6 182.5 L759.4 182.4 L761.2 182.2 L762.9 182.1 L764.7 181.9 L766.5 181.7 L768.3 181.6 L770.1 181.4 L771.9 181.3 L773.7 181.1 L775.6 180.9 L777.4 180.8 L779.3 180.6 L781.1 180.5 L783 180.3 L784.9 180.2 L786.8 180 L788.7 179.9 L790.6 179.7 L792.5 179.6 L794.5 179.4 L796.4 179.3 L798.3 179.1 L800.3 179 L802.3 178.9 L804.2 178.7 L806.2 178.6 L808.2 178.4 L810.2 178.3 L812.3 178.2 L814.3 178 L816.3 177.9 L818.4 177.8 L820.4 177.7 L822.5 177.5 L824.5 177.4 L826.6 177.3 L828.7 177.2 L830.8 177 L832.9 176.9 L835 176.8 L837.2 176.7 L839.3 176.6 L841.5 176.5 L843.6 176.4 L845.8 176.3 L848 176.2 L850.1 176.1 L852.3 176 L854.6 175.9 L856.8 175.8 L859 175.7 L861.2 175.6 L863.5 175.5 L865.7 175.4 L868 175.3 L870.3 175.2 L872.5 175.2 L874.8 175.1 L877.1 175 L879.5 174.9 L881.8 174.9 L884.1 174.8 L886.4 174.8 L888.8 174.7 L891.2 174.6 L893.5 174.6 L895.9 174.5 L898.3 174.5 L900.7 174.4 L903.1 174.4 L905.5 174.3 L905.7 174.3" stroke="#000" stroke-width="3.8" stroke-linecap="round" stroke-dasharray="0 6.7" stroke-dashoffset="0" fill="none"/>
<path d="M248.3 609.1 L249.9 609 L252.3 608.8 L254.7 608.6 L257.1 608.3 L259.5 608.1 L261.9 607.9 L264.2 607.7 L266.6 607.5 L269 607.3 L271.3 607.1 L273.6 606.9 L275.9 606.7 L278.3 606.5 L280.6 606.4 L282.9 606.3 L285.1 606.2 L287.4 606.1 L289.7 605.9 L291.9 605.8 L294.2 605.7 L296.4 605.6 L298.6 605.4 L300.8 605.3 L303.1 605.2 L305.3 605.1 L307.4 604.9 L309.6 604.8 L311.8 604.7 L313.9 604.6 L316.1 604.4 L318.2 604.3 L320.4 604.2 L322.5 604 L324.6 603.9 L326.7 603.8 L328.8 603.6 L330.9 603.5 L332.9 603.4 L335 603.2 L337 603.1 L339.1 603 L341.1 602.8 L343.1 602.7 L345.2 602.6 L347.2 602.4 L349.2 602.3 L351.2 602.1 L353.1 601.9 L355.1 601.7 L357.1 601.6 L359 601.4 L360.9 601.2 L362.9 601 L364.8 600.9 L366.7 600.7 L368.6 600.5 L370.5 600.3 L372.4 600.1 L374.3 600 L376.1 599.8 L378 599.6 L379.8 599.4 L381.7 599.2 L383.5 599 L385.3 598.8 L387.1 598.7 L388.9 598.5 L390.7 598.3 L392.5 598.1 L394.2 597.9 L396 597.7 L397.8 597.5 L399.5 597.3 L401.2 597.1 L403 596.9 L404.7 596.7 L406.4 596.5 L408.1 596.3 L409.8 596.1 L411.4 595.9 L413.1 595.7 L414.8 595.5 L416.4 595.3 L418.1 595.1 L419.7 594.8 L421.3 594.6 L422.9 594.4 L424.5 594.2 L426.1 594 L427.7 593.7 L429.3 593.5 L430.9 593.3 L432.4 593.1 L434 592.8 L435.5 592.6 L437.1 592.4 L438.6 592.1 L440.1 591.9 L441.6 591.7 L443.1 591.4 L444.6 591.2 L446.1 591 L447.5 590.7 L449 590.5 L450.4 590.2 L451.9 590 L453.3 589.7 L454.7 589.4 L456.2 589.2 L457.6 588.9 L459 588.7 L460.4 588.4 L461.7 588.2 L463.1 587.9 L464.5 587.7 L465.8 587.4 L467.2 587.1 L468.5 586.9 L469.8 586.6 L471.1 586.3 L472.5 586 L473.8 585.7 L475 585.5 L476.3 585.2 L477.6 584.9 L478.9 584.6 L480.1 584.3 L481.4 584 L482.6 583.7 L483.8 583.4 L485.1 583.1 L486.3 582.8 L487.5 582.5 L488.7 582.1 L489.9 581.8 L491 581.5 L492.2 581.2 L493.4 580.8 L494.5 580.5 L495.7 580.1 L496.8 579.8 L497.9 579.5 L499 579.1 L500.1 578.7 L501.2 578.4 L502.3 578 L503.4 577.7 L504.5 577.3 L505.6 576.9 L506.6 576.5 L507.7 576.1 L508.7 575.8 L509.7 575.4 L510.8 575 L511.8 574.6 L512.8 574.2 L513.8 573.7 L514.8 573.3 L515.7 572.9 L516.7 572.5 L517.7 572 L518.6 571.6 L519.6 571.1 L520.5 570.7 L521.5 570.2 L522.4 569.8 L523.3 569.3 L524.2 568.8 L525.1 568.3 L526 567.8 L526.9 567.3 L527.7 566.8 L528.6 566.3 L529.5 565.7 L530.3 565.2 L531.2 564.6 L532 564.1 L532.8 563.5 L533.6 562.9 L534.4 562.3 L535.2 561.6 L536 561 L536.8 560.3 L537.6 559.6 L538.3 558.9 L539.1 558.2 L539.9 557.5 L540.6 556.7 L541.3 555.9 L542.1 555.1 L542.8 554.2 L543.5 553.4 L544.2 552.4 L544.9 551.5 L545.6 550.5 L546.3 549.5 L546.9 548.4 L547.6 547.3 L548.2 546.2 L548.9 545 L549.5 543.8 L550.2 542.5 L550.8 541.2 L551.4 539.8 L552 538.4 L552.6 536.9 L553.2 535.3 L553.8 533.8 L554.4 532.1 L554.9 530.4 L555.5 528.6 L556.1 526.8 L556.6 525 L557.1 523 L557.7 521.1 L558.2 519 L558.7 517 L559.2 514.8 L559.7 512.7 L560.2 510.5 L560.7 508.2 L561.2 505.9 L561.7 503.6 L562.1 501.2 L562.6 498.8 L563 496.3 L563.5 493.9 L563.9 491.4 L564.3 488.9 L564.7 486.4 L565.2 483.8 L565.6 481.3 L566 478.7 L566.3 476.1 L566.7 473.6 L567.1 471 L567.5 468.4 L567.8 465.8 L568.2 463.2 L568.5 460.6 L568.9 458.1 L569.2 455.5 L569.5 452.9 L569.9 450.4 L570.2 447.9 L570.5 445.4 L570.8 442.9 L571.1 440.4 L571.4 438 L571.6 435.5 L571.9 433.1 L572.2 430.8 L572.4 428.4 L572.7 426.1 L572.9 423.8 L573.2 421.6 L573.4 419.4 L573.6 417.2 L573.8 415.1 L574.1 413 L574.3 411 L574.5 409 L574.6 407.1 L574.8 405.2 L575 403.3 L575.2 401.5 L575.4 399.8 L575.5 398.1 L575.7 396.5 L575.8 394.9 L576 393.4 L576.1 391.9 L576.2 390.5 L576.4 389.1 L576.5 387.8 L576.6 386.6 L576.7 385.4 L576.8 384.3 L576.9 383.3 L577.1 381.4 L577.2 379.7 L577.3 378.2 L577.4 377 L577.6 375.6 L577.7 374.5 L577.8 373.3 L577.9 372.2 L578 371.2 L578.1 370 L578.2 368.5 L578.3 366.7 L578.5 364.7 L578.6 363.6 L578.7 362.5 L578.8 361.2 L578.9 359.9 L579 358.5 L579.2 357.1 L579.3 355.6 L579.4 354 L579.6 352.3 L579.7 350.5 L579.9 348.7 L580 346.8 L580.2 344.9 L580.4 342.8 L580.6 340.7 L580.8 338.5 L580.9 336.2 L581.1 333.9 L581.3 331.5 L581.6 329 L581.8 326.4 L582 323.8 L582.2 321.1 L582.5 318.4 L582.7 315.6 L583 312.7 L583.2 309.8 L583.5 306.8 L583.8 303.8 L584 300.7 L584.3 297.6 L584.6 294.5 L584.9 291.3 L585.2 288.1 L585.5 284.9 L585.9 281.7 L586.2 278.5 L586.5 275.3 L586.9 272 L587.2 268.8 L587.6 265.7 L587.9 262.5 L588.3 259.4 L588.7 256.3 L589.1 253.2 L589.4 250.2 L589.8 247.3 L590.2 244.4 L590.7 241.6 L591.1 238.8 L591.5 236.1 L591.9 233.4 L592.4 230.9 L592.8 228.4 L593.3 225.9 L593.7 223.6 L594.2 221.3 L594.7 219.1 L595.2 217 L595.7 214.9 L596.2 212.9 L596.7 211 L597.2 209.1 L597.7 207.3 L598.3 205.6 L598.8 204 L599.3 202.4 L599.9 200.8 L600.5 199.4 L601 197.9 L601.6 196.6 L602.2 195.3 L602.8 194 L603.4 192.8 L604 191.6 L604.6 190.5 L605.2 189.4 L605.9 188.3 L606.5 187.3 L607.2 186.3 L607.8 185.4 L608.5 184.5 L609.1 183.6 L609.8 182.7 L610.5 181.9 L611.2 181.1 L611.9 180.3 L612.6 179.6 L613.3 178.9 L614.1 178.2 L614.8 177.5 L616.3 176.2 L617.8 174.9 L619.4 173.7 L621 172.6 L622.6 171.5 L624.2 170.5 L625.9 169.4 L627.7 168.5 L629.4 167.5 L630.3 167.1 L631.2 166.6 L632.1 166.2 L633 165.7 L633.9 165.3 L634.9 164.9 L635.8 164.4 L636.8 164 L637.7 163.6 L638.7 163.2 L639.7 162.8 L640.6 162.4 L641.6 162 L642.6 161.6 L643.6 161.2 L644.6 160.8 L645.7 160.4 L646.7 160.1 L647.7 159.7 L648.8 159.3 L649.8 159 L650.9 158.6 L652 158.3 L653.1 157.9 L654.2 157.6 L655.3 157.2 L656.4 156.9 L657.5 156.5 L658.6 156.2 L659.7 155.9 L660.9 155.5 L662 155.2 L663.2 154.9 L664.4 154.6 L665.5 154.3 L666.7 154 L667.9 153.7 L669.1 153.4 L670.3 153.1 L671.6 152.8 L672.8 152.5 L674 152.2 L675.3 151.9 L676.5 151.6 L677.8 151.3 L679.1 151 L680.4 150.8 L681.6 150.5 L682.9 150.2 L684.3 149.9 L685.6 149.7 L686.9 149.4 L688.2 149.2 L689.6 148.9 L690.9 148.6 L692.3 148.4 L693.7 148.1 L695 147.9 L696.4 147.6 L697.8 147.4 L699.2 147.2 L700.7 146.9 L702.1 146.7 L703.5 146.4 L705 146.2 L706.4 146 L707.9 145.8 L709.3 145.6 L710.8 145.3 L712.3 145.1 L713.8 144.9 L715.3 144.7 L716.8 144.5 L718.3 144.3 L719.9 144.1 L721.4 143.9 L723 143.7 L724.5 143.5 L726.1 143.3 L727.7 143.1 L729.3 142.9 L730.9 142.7 L732.5 142.5 L734.1 142.3 L735.7 142.2 L737.3 142 L739 141.8 L740.6 141.6 L742.3 141.4 L744 141.3 L745.6 141.1 L747.3 140.9 L749 140.7 L750.7 140.6 L752.4 140.4 L754.2 140.2 L755.9 140.1 L757.6 139.9 L759.4 139.7 L761.2 139.6 L762.9 139.4 L764.7 139.3 L766.5 139.1 L768.3 139 L770.1 138.8 L771.9 138.7 L773.7 138.5 L775.6 138.4 L777.4 138.2 L779.3 138.1 L781.1 138 L783 137.8 L784.9 137.7 L786.8 137.6 L788.7 137.4 L790.6 137.3 L792.5 137.2 L794.5 137.1 L796.4 136.9 L798.3 136.8 L800.3 136.7 L802.3 136.6 L804.2 136.5 L806.2 136.3 L808.2 136.2 L810.2 136.1 L812.3 136 L814.3 135.9 L816.3 135.8 L818.4 135.7 L820.4 135.6 L822.5 135.5 L824.5 135.4 L826.6 135.3 L828.7 135.2 L830.8 135.1 L832.9 135 L835 134.9 L837.2 134.8 L839.3 134.8 L841.5 134.7 L843.6 134.6 L845.8 134.6 L848 134.5 L850.1 134.5 L852.3 134.4 L854.6 134.4 L856.8 134.3 L859 134.3 L861.2 134.2 L863.5 134.2 L865.7 134.2 L868 134.1 L870.3 134.1 L872.5 134.1 L874.8 134 L877.1 134 L879.5 134 L881.8 133.9 L884.1 133.9 L886.4 133.9 L888.8 133.9 L891.2 133.9 L893.5 133.9 L895.9 133.9 L898.3 133.9 L900.7 133.9 L903.1 133.9 L905.5 133.9 L905.7 133.9" stroke="#0000ff" stroke-width="4.3" stroke-linejoin="round" stroke-linecap="round" fill="none"/>
<path d="M248.3 609.1 L249.9 609 L252.3 608.8 L254.7 608.6 L257.1 608.3 L259.5 608.1 L261.9 607.9 L264.2 607.7 L266.6 607.5 L269 607.3 L271.3 607.1 L273.6 606.9 L275.9 606.7 L278.3 606.5 L280.6 606.4 L282.9 606.3 L285.1 606.2 L287.4 606.1 L289.7 605.9 L291.9 605.8 L294.2 605.7 L296.4 605.6 L298.6 605.4 L300.8 605.3 L303.1 605.2 L305.3 605.1 L307.4 604.9 L309.6 604.8 L311.8 604.7 L313.9 604.6 L316.1 604.4 L318.2 604.3 L320.4 604.2 L322.5 604 L324.6 603.9 L326.7 603.8 L328.8 603.6 L330.9 603.5 L332.9 603.4 L335 603.2 L337 603.1 L339.1 603 L341.1 602.8 L343.1 602.7 L345.2 602.6 L347.2 602.4 L349.2 602.3 L351.2 602.1 L353.1 601.9 L355.1 601.7 L357.1 601.6 L359 601.4 L360.9 601.2 L362.9 601 L364.8 600.9 L366.7 600.7 L368.6 600.5 L370.5 600.3 L372.4 600.1 L374.3 600 L376.1 599.8 L378 599.6 L379.8 599.4 L381.7 599.2 L383.5 599 L385.3 598.8 L387.1 598.7 L388.9 598.5 L390.7 598.3 L392.5 598.1 L394.2 597.9 L396 597.7 L397.8 597.5 L399.5 597.3 L401.2 597.1 L403 596.9 L404.7 596.7 L406.4 596.5 L408.1 596.3 L409.8 596.1 L411.4 595.9 L413.1 595.7 L414.8 595.5 L416.4 595.3 L418.1 595.1 L419.7 594.8 L421.3 594.6 L422.9 594.4 L424.5 594.2 L426.1 594 L427.7 593.7 L429.3 593.5 L430.9 593.3 L432.4 593.1 L434 592.8 L435.5 592.6 L437.1 592.4 L438.6 592.1 L440.1 591.9 L441.6 591.7 L443.1 591.4 L444.6 591.2 L446.1 591 L447.5 590.7 L449 590.5 L450.4 590.2 L451.9 590 L453.3 589.7 L454.7 589.4 L456.2 589.2 L457.6 588.9 L459 588.7 L460.4 588.4 L461.7 588.2 L463.1 587.9 L464.5 587.7 L465.8 587.4 L467.2 587.1 L468.5 586.9 L469.8 586.6 L471.1 586.3 L472.5 586 L473.8 585.7 L475 585.5 L476.3 585.2 L477.6 584.9 L478.9 584.6 L480.1 584.3 L481.4 584 L482.6 583.7 L483.8 583.4 L485.1 583.1 L486.3 582.8 L487.5 582.5 L488.7 582.1 L489.9 581.8 L491 581.5 L492.2 581.2 L493.4 580.8 L494.5 580.5 L495.7 580.1 L496.8 579.8 L497.9 579.5 L499 579.1 L500.1 578.7 L501.2 578.4 L502.3 578 L503.4 577.7 L504.5 577.3 L505.6 576.9 L506.6 576.5 L507.7 576.1 L508.7 575.8 L509.7 575.4 L510.8 575 L511.8 574.6 L512.8 574.2 L513.8 573.7 L514.8 573.3 L515.7 572.9 L516.7 572.5 L517.7 572 L518.6 571.6 L519.6 571.1 L520.5 570.7 L521.5 570.2 L522.4 569.8 L523.3 569.3 L524.2 568.8 L525.1 568.3 L526 567.8 L526.9 567.3 L527.7 566.8 L528.6 566.3 L529.5 565.7 L530.3 565.2 L531.2 564.6 L532 564.1 L532.8 563.5 L533.6 562.9 L534.4 562.3 L535.2 561.6 L536 561 L536.8 560.3 L537.6 559.6 L538.3 558.9 L539.1 558.2 L539.9 557.5 L540.6 556.7 L541.3 555.9 L542.1 555.1 L542.8 554.2 L543.5 553.4 L544.2 552.4 L544.9 551.5 L545.6 550.5 L546.3 549.5 L546.9 548.4 L547.6 547.3 L548.2 546.2 L548.9 545 L549.5 543.7 L550.2 542.4 L550.8 541.1 L551.4 539.7 L552 538.2 L552.6 536.7 L553.2 535.1 L553.8 533.5 L554.4 531.7 L554.9 530 L555.5 528.1 L556.1 526.2 L556.6 524.1 L557.1 522.1 L557.7 519.9 L558.2 517.6 L558.7 515.3 L559.2 512.9 L559.7 510.4 L560.2 507.8 L560.7 505.1 L561.2 502.3 L561.7 499.5 L562.1 496.5 L562.6 493.5 L563 490.4 L563.5 487.2 L563.9 484 L564.3 480.6 L564.7 477.3 L565.2 473.8 L565.6 470.3 L566 466.7 L566.3 463.1 L566.7 459.5 L567.1 455.8 L567.5 452.1 L567.8 448.4 L568.2 444.7 L568.5 441 L568.9 437.2 L569.2 433.5 L569.5 429.9 L569.9 426.2 L570.2 422.6 L570.5 419 L570.8 415.5 L571.1 412 L571.4 408.6 L571.6 405.2 L571.9 401.9 L572.2 398.7 L572.4 395.5 L572.7 392.4 L572.9 389.4 L573.2 386.5 L573.4 383.7 L573.6 380.9 L573.8 378.2 L574.1 375.6 L574.3 373.1 L574.5 370.7 L574.6 368.4 L574.8 366.1 L575 364 L575.2 361.9 L575.4 359.9 L575.5 358 L575.7 356.1 L575.8 354.4 L576 352.7 L576.1 351.1 L576.2 349.6 L576.4 348.2 L576.5 346.8 L576.6 345.5 L576.7 344.3 L576.8 343.1 L576.9 342 L577 341 L577.1 339.2 L577.3 337.6 L577.4 336.3 L577.5 335.2 L577.6 334 L577.7 333 L577.8 331.8 L577.9 330.7 L578 329.6 L578.1 328.3 L578.3 326.8 L578.4 325.1 L578.6 323.2 L578.7 322.1 L578.8 321 L578.9 319.9 L579 318.6 L579.2 317.4 L579.3 316.1 L579.4 314.7 L579.6 313.3 L579.7 311.8 L579.9 310.3 L580 308.7 L580.2 307.1 L580.4 305.5 L580.6 303.8 L580.8 302.1 L580.9 300.3 L581.1 298.5 L581.3 296.7 L581.6 294.8 L581.8 292.9 L582 291 L582.2 289 L582.5 287 L582.7 285 L583 283 L583.2 280.9 L583.5 278.8 L583.8 276.7 L584 274.6 L584.3 272.5 L584.6 270.4 L584.9 268.3 L585.2 266.1 L585.5 264 L585.9 261.8 L586.2 259.6 L586.5 257.5 L586.9 255.3 L587.2 253.2 L587.6 251 L587.9 248.9 L588.3 246.7 L588.7 244.6 L589.1 242.5 L589.4 240.4 L589.8 238.3 L590.2 236.2 L590.7 234.1 L591.1 232.1 L591.5 230.1 L591.9 228.1 L592.4 226.1 L592.8 224.1 L593.3 222.2 L593.7 220.3 L594.2 218.4 L594.7 216.6 L595.2 214.8 L595.7 213.1 L596.2 211.3 L596.7 209.7 L597.2 208 L597.7 206.4 L598.3 204.8 L598.8 203.3 L599.3 201.8 L599.9 200.4 L600.5 199 L601 197.6 L601.6 196.3 L602.2 195.1 L602.8 193.8 L603.4 192.6 L604 191.5 L604.6 190.4 L605.2 189.3 L605.9 188.3 L606.5 187.3 L607.2 186.3 L607.8 185.4 L608.5 184.5 L609.1 183.6 L609.8 182.7 L610.5 181.9 L611.2 181.1 L611.9 180.3 L612.6 179.6 L613.3 178.9 L614.1 178.2 L614.8 177.5 L616.3 176.2 L617.8 174.9 L619.4 173.7 L621 172.6 L622.6 171.5 L624.2 170.5 L625.9 169.4 L627.7 168.5 L629.4 167.5 L630.3 167.1 L631.2 166.6 L632.1 166.2 L633 165.7 L633.9 165.3 L634.9 164.9 L635.8 164.4 L636.8 164 L637.7 163.6 L638.7 163.2 L639.7 162.8 L640.6 162.4 L641.6 162 L642.6 161.6 L643.6 161.2 L644.6 160.8 L645.7 160.4 L646.7 160.1 L647.7 159.7 L648.8 159.3 L649.8 159 L650.9 158.6 L652 158.3 L653.1 157.9 L654.2 157.6 L655.3 157.2 L656.4 156.9 L657.5 156.5 L658.6 156.2 L659.7 155.9 L660.9 155.5 L662 155.2 L663.2 154.9 L664.4 154.6 L665.5 154.3 L666.7 154 L667.9 153.7 L669.1 153.4 L670.3 153.1 L671.6 152.8 L672.8 152.5 L674 152.2 L675.3 151.9 L676.5 151.6 L677.8 151.3 L679.1 151 L680.4 150.8 L681.6 150.5 L682.9 150.2 L684.3 149.9 L685.6 149.7 L686.9 149.4 L688.2 149.2 L689.6 148.9 L690.9 148.6 L692.3 148.4 L693.7 148.1 L695 147.9 L696.4 147.6 L697.8 147.4 L699.2 147.2 L700.7 146.9 L702.1 146.7 L703.5 146.4 L705 146.2 L706.4 146 L707.9 145.8 L709.3 145.6 L710.8 145.3 L712.3 145.1 L713.8 144.9 L715.3 144.7 L716.8 144.5 L718.3 144.3 L719.9 144.1 L721.4 143.9 L723 143.7 L724.5 143.5 L726.1 143.3 L727.7 143.1 L729.3 142.9 L730.9 142.7 L732.5 142.5 L734.1 142.3 L735.7 142.2 L737.3 142 L739 141.8 L740.6 141.6 L742.3 141.4 L744 141.3 L745.6 141.1 L747.3 140.9 L749 140.7 L750.7 140.6 L752.4 140.4 L754.2 140.2 L755.9 140 L757.6 139.9 L759.4 139.7 L761.2 139.5 L762.9 139.3 L764.7 139.2 L766.5 139 L768.3 138.8 L770.1 138.7 L771.9 138.5 L773.7 138.3 L775.6 138.2 L777.4 138 L779.3 137.8 L781.1 137.7 L783 137.5 L784.9 137.3 L786.8 137.2 L788.7 137 L790.6 136.8 L792.5 136.7 L794.5 136.5 L796.4 136.3 L798.3 136.2 L800.3 136 L802.3 135.8 L804.2 135.7 L806.2 135.5 L808.2 135.3 L810.2 135.2 L812.3 135 L814.3 134.8 L816.3 134.7 L818.4 134.5 L820.4 134.3 L822.5 134.2 L824.5 134 L826.6 133.8 L828.7 133.6 L830.8 133.5 L832.9 133.3 L835 133.1 L837.2 133 L839.3 132.8 L841.5 132.6 L843.6 132.5 L845.8 132.3 L848 132.2 L850.1 132 L852.3 131.9 L854.6 131.7 L856.8 131.6 L859 131.4 L861.2 131.2 L863.5 131.1 L865.7 130.9 L868 130.8 L870.3 130.6 L872.5 130.5 L874.8 130.3 L877.1 130.1 L879.5 130 L881.8 129.8 L884.1 129.7 L886.4 129.5 L888.8 129.3 L891.2 129.2 L893.5 129 L895.9 128.8 L898.3 128.7 L900.7 128.5 L903.1 128.3 L905.5 128.2 L905.7 128.2" stroke="#0000ff" stroke-width="4.3" stroke-linejoin="round" stroke-linecap="round" fill="none"/>
<path d="M248.3 629 L249.9 628.9 L252.3 628.6 L254.7 628.4 L257.1 628.2 L259.5 628 L261.9 627.8 L264.2 627.6 L266.6 627.3 L269 627.1 L271.3 626.9 L273.6 626.7 L275.9 626.5 L278.3 626.3 L280.6 626.2 L282.9 626 L285.1 625.9 L287.4 625.8 L289.7 625.6 L291.9 625.5 L294.2 625.3 L296.4 625.2 L298.6 625 L300.8 624.9 L303.1 624.7 L305.3 624.6 L307.4 624.4 L309.6 624.3 L311.8 624.1 L313.9 624 L316.1 623.8 L318.2 623.7 L320.4 623.5 L322.5 623.4 L324.6 623.2 L326.7 623.1 L328.8 622.9 L330.9 622.7 L332.9 622.6 L335 622.4 L337 622.3 L339.1 622.1 L341.1 621.9 L343.1 621.8 L345.2 621.6 L347.2 621.4 L349.2 621.3 L351.2 621.1 L353.1 620.9 L355.1 620.7 L357.1 620.6 L359 620.4 L360.9 620.2 L362.9 620 L364.8 619.9 L366.7 619.7 L368.6 619.5 L370.5 619.3 L372.4 619.1 L374.3 618.9 L376.1 618.7 L378 618.5 L379.8 618.4 L381.7 618.2 L383.5 618 L385.3 617.8 L387.1 617.6 L388.9 617.4 L390.7 617.2 L392.5 617 L394.2 616.8 L396 616.6 L397.8 616.3 L399.5 616.1 L401.2 615.9 L403 615.7 L404.7 615.5 L406.4 615.3 L408.1 615.1 L409.8 614.8 L411.4 614.6 L413.1 614.4 L414.8 614.2 L416.4 613.9 L418.1 613.7 L419.7 613.5 L421.3 613.2 L422.9 613 L424.5 612.8 L426.1 612.5 L427.7 612.3 L429.3 612 L430.9 611.8 L432.4 611.5 L434 611.3 L435.5 611 L437.1 610.8 L438.6 610.5 L440.1 610.2 L441.6 610 L443.1 609.7 L444.6 609.4 L446.1 609.2 L447.5 608.9 L449 608.6 L450.4 608.3 L451.9 608.1 L453.3 607.8 L454.7 607.5 L456.2 607.2 L457.6 606.9 L459 606.6 L460.4 606.3 L461.7 606 L463.1 605.7 L464.5 605.4 L465.8 605.1 L467.2 604.8 L468.5 604.5 L469.8 604.2 L471.1 603.9 L472.5 603.5 L473.8 603.2 L475 602.9 L476.3 602.6 L477.6 602.2 L478.9 601.9 L480.1 601.6 L481.4 601.2 L482.6 600.9 L483.8 600.5 L485.1 600.2 L486.3 599.9 L487.5 599.5 L488.7 599.1 L489.9 598.8 L491 598.4 L492.2 598.1 L493.4 597.7 L494.5 597.3 L495.7 597 L496.8 596.6 L497.9 596.2 L499 595.8 L500.1 595.4 L501.2 595 L502.3 594.7 L503.4 594.3 L504.5 593.9 L505.6 593.5 L506.6 593.1 L507.7 592.6 L508.7 592.2 L509.7 591.8 L510.8 591.4 L511.8 591 L512.8 590.5 L513.8 590.1 L514.8 589.7 L515.7 589.2 L516.7 588.8 L517.7 588.3 L518.6 587.9 L519.6 587.4 L520.5 586.9 L521.5 586.4 L522.4 585.9 L523.3 585.4 L524.2 584.9 L525.1 584.4 L526 583.9 L526.9 583.4 L527.7 582.8 L528.6 582.2 L529.5 581.7 L530.3 581.1 L531.2 580.5 L532 579.8 L532.8 579.2 L533.6 578.6 L534.4 577.9 L535.2 577.2 L536 576.5 L536.8 575.7 L537.6 574.9 L538.3 574.1 L539.1 573.3 L539.9 572.5 L540.6 571.6 L541.3 570.7 L542.1 569.7 L542.8 568.7 L543.5 567.7 L544.2 566.6 L544.9 565.5 L545.6 564.3 L546.3 563.1 L546.9 561.9 L547.6 560.6 L548.2 559.2 L548.9 557.8 L549.5 556.4 L550.2 554.9 L550.8 553.3 L551.4 551.7 L552 550 L552.6 548.2 L553.2 546.5 L553.8 544.6 L554.4 542.7 L554.9 540.7 L555.5 538.7 L556.1 536.6 L556.6 534.5 L557.1 532.3 L557.7 530 L558.2 527.8 L558.7 525.4 L559.2 523 L559.7 520.6 L560.2 518.2 L560.7 515.7 L561.2 513.1 L561.7 510.6 L562.1 508 L562.6 505.4 L563 502.8 L563.5 500.1 L563.9 497.5 L564.3 494.8 L564.7 492.1 L565.2 489.5 L565.6 486.8 L566 484.1 L566.3 481.4 L566.7 478.7 L567.1 476.1 L567.5 473.4 L567.8 470.7 L568.2 468.1 L568.5 465.4 L568.9 462.8 L569.2 460.2 L569.5 457.6 L569.9 455 L570.2 452.5 L570.5 450 L570.8 447.4 L571.1 445 L571.4 442.5 L571.6 440.1 L571.9 437.7 L572.2 435.3 L572.4 433 L572.7 430.7 L572.9 428.4 L573.2 426.2 L573.4 424 L573.6 421.9 L573.8 419.8 L574.1 417.7 L574.3 415.7 L574.5 413.7 L574.6 411.8 L574.8 409.9 L575 408.1 L575.2 406.4 L575.4 404.6 L575.5 403 L575.7 401.4 L575.8 399.8 L576 398.3 L576.1 396.9 L576.2 395.5 L576.4 394.2 L576.5 392.9 L576.6 391.7 L576.7 390.5 L576.8 389.4 L576.9 388.4 L577.1 386.5 L577.2 384.8 L577.3 383.4 L577.4 382.2 L577.6 380.8 L577.7 379.7 L577.8 378.5 L577.9 377.5 L578 375.9 L578.1 374.6 L578.3 373 L578.4 371.1 L578.5 370.1 L578.6 369 L578.7 367.9 L578.8 366.6 L578.9 365.3 L579 364 L579.2 362.5 L579.3 361 L579.4 359.4 L579.6 357.8 L579.7 356.1 L579.9 354.2 L580 352.4 L580.2 350.4 L580.4 348.4 L580.6 346.2 L580.8 344 L580.9 341.8 L581.1 339.4 L581.3 337 L581.6 334.5 L581.8 331.9 L582 329.3 L582.2 326.6 L582.5 323.8 L582.7 320.9 L583 318 L583.2 315 L583.5 312 L583.8 308.8 L584 305.7 L584.3 302.5 L584.6 299.2 L584.9 295.9 L585.2 292.6 L585.5 289.2 L585.9 285.8 L586.2 282.4 L586.5 278.9 L586.9 275.5 L587.2 272 L587.6 268.6 L587.9 265.1 L588.3 261.7 L588.7 258.3 L589.1 254.9 L589.4 251.6 L589.8 248.2 L590.2 245 L590.7 241.7 L591.1 238.6 L591.5 235.4 L591.9 232.4 L592.4 229.4 L592.8 226.4 L593.3 223.6 L593.7 220.8 L594.2 218 L594.7 215.4 L595.2 212.8 L595.7 210.3 L596.2 207.9 L596.7 205.5 L597.2 203.2 L597.7 201 L598.3 198.9 L598.8 196.8 L599.3 194.8 L599.9 192.9 L600.5 191 L601 189.2 L601.6 187.5 L602.2 185.8 L602.8 184.2 L603.4 182.6 L604 181.1 L604.6 179.7 L605.2 178.3 L605.9 177 L606.5 175.7 L607.2 174.5 L607.8 173.3 L608.5 172.1 L609.1 171 L609.8 170 L610.5 168.9 L611.2 167.9 L611.9 167 L612.6 166.1 L613.3 165.2 L614.1 164.3 L614.8 163.5 L615.5 162.7 L616.3 161.9 L617.1 161.2 L617.8 160.5 L618.6 159.8 L619.4 159.1 L620.2 158.4 L621 157.8 L621.8 157.2 L622.6 156.6 L623.4 156 L624.2 155.4 L625.1 154.8 L625.9 154.3 L626.8 153.7 L627.7 153.2 L628.5 152.7 L629.4 152.2 L630.3 151.7 L631.2 151.2 L632.1 150.7 L633 150.2 L633.9 149.8 L634.9 149.3 L635.8 148.8 L636.8 148.4 L637.7 148 L638.7 147.5 L639.7 147.1 L640.6 146.7 L641.6 146.2 L642.6 145.8 L643.6 145.4 L644.6 145 L645.7 144.6 L646.7 144.2 L647.7 143.8 L648.8 143.4 L649.8 143 L650.9 142.6 L652 142.2 L653.1 141.8 L654.2 141.4 L655.3 141.1 L656.4 140.7 L657.5 140.3 L658.6 139.9 L659.7 139.6 L660.9 139.2 L662 138.8 L663.2 138.5 L664.4 138.1 L665.5 137.8 L666.7 137.4 L667.9 137.1 L669.1 136.7 L670.3 136.4 L671.6 136.1 L672.8 135.7 L674 135.4 L675.3 135.1 L676.5 134.7 L677.8 134.4 L679.1 134.1 L680.4 133.8 L681.6 133.4 L682.9 133.1 L684.3 132.8 L685.6 132.5 L686.9 132.2 L688.2 131.9 L689.6 131.6 L690.9 131.3 L692.3 131 L693.7 130.7 L695 130.4 L696.4 130.1 L697.8 129.8 L699.2 129.5 L700.7 129.3 L702.1 129 L703.5 128.7 L705 128.4 L706.4 128.2 L707.9 127.9 L709.3 127.6 L710.8 127.4 L712.3 127.1 L713.8 126.9 L715.3 126.6 L716.8 126.4 L718.3 126.1 L719.9 125.9 L721.4 125.6 L723 125.4 L724.5 125.2 L726.1 124.9 L727.7 124.7 L729.3 124.5 L730.9 124.2 L732.5 124 L734.1 123.8 L735.7 123.5 L737.3 123.3 L739 123.1 L740.6 122.9 L742.3 122.7 L744 122.5 L745.6 122.3 L747.3 122 L749 121.8 L750.7 121.6 L752.4 121.4 L754.2 121.2 L755.9 121 L757.6 120.8 L759.4 120.6 L761.2 120.5 L762.9 120.3 L764.7 120.1 L766.5 119.9 L768.3 119.7 L770.1 119.5 L771.9 119.4 L773.7 119.2 L775.6 119 L777.4 118.9 L779.3 118.7 L781.1 118.5 L783 118.4 L784.9 118.2 L786.8 118 L788.7 117.9 L790.6 117.7 L792.5 117.6 L794.5 117.4 L796.4 117.3 L798.3 117.1 L800.3 117 L802.3 116.9 L804.2 116.7 L806.2 116.6 L808.2 116.5 L810.2 116.3 L812.3 116.2 L814.3 116.1 L816.3 115.9 L818.4 115.8 L820.4 115.7 L822.5 115.6 L824.5 115.5 L826.6 115.3 L828.7 115.2 L830.8 115.1 L832.9 115 L835 114.9 L837.2 114.8 L839.3 114.7 L841.5 114.6 L843.6 114.6 L845.8 114.5 L848 114.5 L850.1 114.4 L852.3 114.4 L854.6 114.3 L856.8 114.3 L859 114.2 L861.2 114.2 L863.5 114.2 L865.7 114.1 L868 114.1 L870.3 114.1 L872.5 114.1 L874.8 114 L877.1 114 L879.5 114 L881.8 113.9 L884.1 113.8 L886.4 113.7 L888.8 113.6 L891.2 113.5 L893.5 113.4 L895.9 113.3 L898.3 113.2 L900.7 113.1 L903.1 113.1 L905.5 113 L905.7 113" stroke="#008000" stroke-width="4.3" stroke-linejoin="round" stroke-linecap="round" fill="none"/>
<path d="M248.3 629 L249.9 628.9 L252.3 628.6 L254.7 628.4 L257.1 628.2 L259.5 628 L261.9 627.8 L264.2 627.6 L266.6 627.3 L269 627.1 L271.3 626.9 L273.6 626.7 L275.9 626.5 L278.3 626.3 L280.6 626.2 L282.9 626 L285.1 625.9 L287.4 625.8 L289.7 625.6 L291.9 625.5 L294.2 625.3 L296.4 625.2 L298.6 625 L300.8 624.9 L303.1 624.7 L305.3 624.6 L307.4 624.4 L309.6 624.3 L311.8 624.1 L313.9 624 L316.1 623.8 L318.2 623.7 L320.4 623.5 L322.5 623.4 L324.6 623.2 L326.7 623.1 L328.8 622.9 L330.9 622.7 L332.9 622.6 L335 622.4 L337 622.3 L339.1 622.1 L341.1 621.9 L343.1 621.8 L345.2 621.6 L347.2 621.4 L349.2 621.3 L351.2 621.1 L353.1 620.9 L355.1 620.7 L357.1 620.6 L359 620.4 L360.9 620.2 L362.9 620 L364.8 619.9 L366.7 619.7 L368.6 619.5 L370.5 619.3 L372.4 619.1 L374.3 618.9 L376.1 618.7 L378 618.5 L379.8 618.4 L381.7 618.2 L383.5 618 L385.3 617.8 L387.1 617.6 L388.9 617.4 L390.7 617.2 L392.5 617 L394.2 616.8 L396 616.6 L397.8 616.3 L399.5 616.1 L401.2 615.9 L403 615.7 L404.7 615.5 L406.4 615.3 L408.1 615.1 L409.8 614.8 L411.4 614.6 L413.1 614.4 L414.8 614.2 L416.4 613.9 L418.1 613.7 L419.7 613.5 L421.3 613.2 L422.9 613 L424.5 612.8 L426.1 612.5 L427.7 612.3 L429.3 612 L430.9 611.8 L432.4 611.5 L434 611.3 L435.5 611 L437.1 610.8 L438.6 610.5 L440.1 610.2 L441.6 610 L443.1 609.7 L444.6 609.4 L446.1 609.2 L447.5 608.9 L449 608.6 L450.4 608.3 L451.9 608.1 L453.3 607.8 L454.7 607.5 L456.2 607.2 L457.6 606.9 L459 606.6 L460.4 606.3 L461.7 606 L463.1 605.7 L464.5 605.4 L465.8 605.1 L467.2 604.8 L468.5 604.5 L469.8 604.2 L471.1 603.9 L472.5 603.5 L473.8 603.2 L475 602.9 L476.3 602.6 L477.6 602.2 L478.9 601.9 L480.1 601.6 L481.4 601.2 L482.6 600.9 L483.8 600.5 L485.1 600.2 L486.3 599.9 L487.5 599.5 L488.7 599.1 L489.9 598.8 L491 598.4 L492.2 598.1 L493.4 597.7 L494.5 597.3 L495.7 597 L496.8 596.6 L497.9 596.2 L499 595.8 L500.1 595.4 L501.2 595 L502.3 594.7 L503.4 594.3 L504.5 593.9 L505.6 593.5 L506.6 593.1 L507.7 592.6 L508.7 592.2 L509.7 591.8 L510.8 591.4 L511.8 591 L512.8 590.5 L513.8 590.1 L514.8 589.7 L515.7 589.2 L516.7 588.8 L517.7 588.3 L518.6 587.9 L519.6 587.4 L520.5 586.9 L521.5 586.4 L522.4 585.9 L523.3 585.4 L524.2 584.9 L525.1 584.4 L526 583.9 L526.9 583.4 L527.7 582.8 L528.6 582.2 L529.5 581.7 L530.3 581.1 L531.2 580.5 L532 579.8 L532.8 579.2 L533.6 578.6 L534.4 577.9 L535.2 577.2 L536 576.5 L536.8 575.7 L537.6 574.9 L538.3 574.1 L539.1 573.3 L539.9 572.5 L540.6 571.6 L541.3 570.7 L542.1 569.7 L542.8 568.7 L543.5 567.7 L544.2 566.6 L544.9 565.5 L545.6 564.3 L546.3 563.1 L546.9 561.9 L547.6 560.6 L548.2 559.2 L548.9 557.8 L549.5 556.3 L550.2 554.8 L550.8 553.2 L551.4 551.5 L552 549.8 L552.6 548 L553.2 546.2 L553.8 544.3 L554.4 542.3 L554.9 540.2 L555.5 538.1 L556.1 535.8 L556.6 533.5 L557.1 531.2 L557.7 528.7 L558.2 526.2 L558.7 523.5 L559.2 520.8 L559.7 518.1 L560.2 515.2 L560.7 512.3 L561.2 509.2 L561.7 506.1 L562.1 503 L562.6 499.7 L563 496.4 L563.5 493.1 L563.9 489.6 L564.3 486.1 L564.7 482.6 L565.2 479 L565.6 475.3 L566 471.7 L566.3 468 L566.7 464.3 L567.1 460.5 L567.5 456.8 L567.8 453 L568.2 449.3 L568.5 445.5 L568.9 441.8 L569.2 438.1 L569.5 434.4 L569.9 430.8 L570.2 427.2 L570.5 423.6 L570.8 420.1 L571.1 416.7 L571.4 413.3 L571.6 410 L571.9 406.7 L572.2 403.6 L572.4 400.4 L572.7 397.4 L572.9 394.4 L573.2 391.6 L573.4 388.8 L573.6 386 L573.8 383.4 L574.1 380.9 L574.3 378.4 L574.5 376 L574.6 373.7 L574.8 371.5 L575 369.3 L575.2 367.3 L575.4 365.3 L575.5 363.4 L575.7 361.6 L575.8 359.9 L576 358.2 L576.1 356.6 L576.2 355.1 L576.4 353.7 L576.5 352.3 L576.6 351 L576.7 349.8 L576.8 348.7 L576.9 347.6 L577 346.6 L577.1 344.8 L577.3 343.2 L577.4 341.9 L577.5 340.8 L577.6 339.6 L577.7 338.6 L577.8 337.4 L577.9 336.2 L578 335.1 L578.1 333.8 L578.3 332.3 L578.4 330.6 L578.6 328.6 L578.7 327.6 L578.8 326.5 L578.9 325.3 L579 324.1 L579.2 322.8 L579.3 321.4 L579.4 320 L579.6 318.6 L579.7 317.1 L579.9 315.6 L580 314 L580.2 312.3 L580.4 310.6 L580.6 308.9 L580.8 307.1 L580.9 305.3 L581.1 303.4 L581.3 301.5 L581.6 299.5 L581.8 297.6 L582 295.5 L582.2 293.5 L582.5 291.4 L582.7 289.3 L583 287.1 L583.2 284.9 L583.5 282.7 L583.8 280.5 L584 278.3 L584.3 276 L584.6 273.7 L584.9 271.4 L585.2 269.1 L585.5 266.7 L585.9 264.4 L586.2 262 L586.5 259.6 L586.9 257.2 L587.2 254.8 L587.6 252.4 L587.9 250 L588.3 247.6 L588.7 245.2 L589.1 242.8 L589.4 240.4 L589.8 238 L590.2 235.6 L590.7 233.2 L591.1 230.8 L591.5 228.4 L591.9 226.1 L592.4 223.7 L592.8 221.4 L593.3 219.1 L593.7 216.9 L594.2 214.6 L594.7 212.4 L595.2 210.2 L595.7 208.1 L596.2 205.9 L596.7 203.9 L597.2 201.8 L597.7 199.8 L598.3 197.9 L598.8 196 L599.3 194.1 L599.9 192.3 L600.5 190.5 L601 188.8 L601.6 187.2 L602.2 185.6 L602.8 184 L603.4 182.5 L604 181 L604.6 179.6 L605.2 178.2 L605.9 176.9 L606.5 175.7 L607.2 174.4 L607.8 173.2 L608.5 172.1 L609.1 171 L609.8 169.9 L610.5 168.9 L611.2 167.9 L611.9 167 L612.6 166.1 L613.3 165.2 L614.1 164.3 L614.8 163.5 L615.5 162.7 L616.3 161.9 L617.1 161.2 L617.8 160.5 L618.6 159.8 L619.4 159.1 L620.2 158.4 L621 157.8 L621.8 157.2 L622.6 156.6 L623.4 156 L624.2 155.4 L625.1 154.8 L625.9 154.3 L626.8 153.7 L627.7 153.2 L628.5 152.7 L629.4 152.2 L630.3 151.7 L631.2 151.2 L632.1 150.7 L633 150.2 L633.9 149.8 L634.9 149.3 L635.8 148.8 L636.8 148.4 L637.7 148 L638.7 147.5 L639.7 147.1 L640.6 146.7 L641.6 146.2 L642.6 145.8 L643.6 145.4 L644.6 145 L645.7 144.6 L646.7 144.2 L647.7 143.8 L648.8 143.4 L649.8 143 L650.9 142.6 L652 142.2 L653.1 141.8 L654.2 141.4 L655.3 141.1 L656.4 140.7 L657.5 140.3 L658.6 139.9 L659.7 139.6 L660.9 139.2 L662 138.8 L663.2 138.5 L664.4 138.1 L665.5 137.8 L666.7 137.4 L667.9 137.1 L669.1 136.7 L670.3 136.4 L671.6 136.1 L672.8 135.7 L674 135.4 L675.3 135.1 L676.5 134.7 L677.8 134.4 L679.1 134.1 L680.4 133.8 L681.6 133.4 L682.9 133.1 L684.3 132.8 L685.6 132.5 L686.9 132.2 L688.2 131.9 L689.6 131.6 L690.9 131.3 L692.3 131 L693.7 130.7 L695 130.4 L696.4 130.1 L697.8 129.8 L699.2 129.5 L700.7 129.3 L702.1 129 L703.5 128.7 L705 128.4 L706.4 128.2 L707.9 127.9 L709.3 127.6 L710.8 127.4 L712.3 127.1 L713.8 126.9 L715.3 126.6 L716.8 126.4 L718.3 126.1 L719.9 125.9 L721.4 125.6 L723 125.4 L724.5 125.2 L726.1 124.9 L727.7 124.7 L729.3 124.5 L730.9 124.2 L732.5 124 L734.1 123.8 L735.7 123.5 L737.3 123.3 L739 123.1 L740.6 122.9 L742.3 122.7 L744 122.5 L745.6 122.2 L747.3 122 L749 121.8 L750.7 121.6 L752.4 121.4 L754.2 121.2 L755.9 121 L757.6 120.8 L759.4 120.6 L761.2 120.4 L762.9 120.2 L764.7 120 L766.5 119.8 L768.3 119.6 L770.1 119.4 L771.9 119.2 L773.7 119 L775.6 118.8 L777.4 118.6 L779.3 118.5 L781.1 118.3 L783 118.1 L784.9 117.9 L786.8 117.7 L788.7 117.5 L790.6 117.3 L792.5 117.1 L794.5 117 L796.4 116.8 L798.3 116.6 L800.3 116.4 L802.3 116.2 L804.2 116 L806.2 115.9 L808.2 115.7 L810.2 115.5 L812.3 115.3 L814.3 115.1 L816.3 114.9 L818.4 114.8 L820.4 114.6 L822.5 114.4 L824.5 114.2 L826.6 114 L828.7 113.9 L830.8 113.7 L832.9 113.5 L835 113.3 L837.2 113.1 L839.3 113 L841.5 112.8 L843.6 112.7 L845.8 112.5 L848 112.4 L850.1 112.3 L852.3 112.1 L854.6 112 L856.8 111.9 L859 111.7 L861.2 111.6 L863.5 111.4 L865.7 111.3 L868 111.2 L870.3 111 L872.5 110.9 L874.8 110.8 L877.1 110.6 L879.5 110.5 L881.8 110.3 L884.1 110 L886.4 109.8 L888.8 109.6 L891.2 109.4 L893.5 109.1 L895.9 108.9 L898.3 108.7 L900.7 108.4 L903.1 108.2 L905.5 108 L905.7 108" stroke="#008000" stroke-width="4.3" stroke-linejoin="round" stroke-linecap="round" fill="none"/>
<path d="M248.3 654.5 L249.9 654.3 L252.3 654.1 L254.7 654 L257.1 653.8 L259.5 653.6 L261.9 653.4 L264.2 653.2 L266.6 653 L269 652.8 L271.3 652.6 L273.6 652.3 L275.9 652.1 L278.3 652 L280.6 651.9 L282.9 651.8 L285.1 651.7 L287.4 651.6 L289.7 651.4 L291.9 651.3 L294.2 651.2 L296.4 651.1 L298.6 650.9 L300.8 650.8 L303.1 650.7 L305.3 650.5 L307.4 650.4 L309.6 650.2 L311.8 650.1 L313.9 649.9 L316.1 649.8 L318.2 649.6 L320.4 649.5 L322.5 649.3 L324.6 649.2 L326.7 649 L328.8 648.8 L330.9 648.7 L332.9 648.5 L335 648.3 L337 648.2 L339.1 648 L341.1 647.8 L343.1 647.6 L345.2 647.5 L347.2 647.3 L349.2 647.1 L351.2 646.9 L353.1 646.7 L355.1 646.5 L357.1 646.3 L359 646.1 L360.9 645.9 L362.9 645.6 L364.8 645.4 L366.7 645.2 L368.6 645 L370.5 644.8 L372.4 644.5 L374.3 644.3 L376.1 644.1 L378 643.9 L379.8 643.6 L381.7 643.4 L383.5 643.1 L385.3 642.9 L387.1 642.7 L388.9 642.4 L390.7 642.2 L392.5 641.9 L394.2 641.7 L396 641.4 L397.8 641.2 L399.5 640.9 L401.2 640.6 L403 640.4 L404.7 640.1 L406.4 639.8 L408.1 639.6 L409.8 639.3 L411.4 639 L413.1 638.7 L414.8 638.5 L416.4 638.2 L418.1 637.9 L419.7 637.6 L421.3 637.3 L422.9 637 L424.5 636.7 L426.1 636.4 L427.7 636.1 L429.3 635.8 L430.9 635.5 L432.4 635.2 L434 634.9 L435.5 634.6 L437.1 634.3 L438.6 634 L440.1 633.7 L441.6 633.4 L443.1 633.1 L444.6 632.7 L446.1 632.4 L447.5 632.1 L449 631.8 L450.4 631.4 L451.9 631.1 L453.3 630.8 L454.7 630.4 L456.2 630.1 L457.6 629.8 L459 629.5 L460.4 629.1 L461.7 628.8 L463.1 628.5 L464.5 628.1 L465.8 627.8 L467.2 627.4 L468.5 627.1 L469.8 626.8 L471.1 626.4 L472.5 626.1 L473.8 625.7 L475 625.4 L476.3 625 L477.6 624.6 L478.9 624.3 L480.1 623.9 L481.4 623.6 L482.6 623.2 L483.8 622.8 L485.1 622.4 L486.3 622.1 L487.5 621.7 L488.7 621.3 L489.9 620.9 L491 620.5 L492.2 620.1 L493.4 619.7 L494.5 619.3 L495.7 618.9 L496.8 618.5 L497.9 618.1 L499 617.7 L500.1 617.3 L501.2 616.9 L502.3 616.4 L503.4 616 L504.5 615.6 L505.6 615.1 L506.6 614.7 L507.7 614.3 L508.7 613.8 L509.7 613.3 L510.8 612.9 L511.8 612.4 L512.8 611.9 L513.8 611.5 L514.8 611 L515.7 610.5 L516.7 610 L517.7 609.5 L518.6 609 L519.6 608.4 L520.5 607.9 L521.5 607.4 L522.4 606.8 L523.3 606.3 L524.2 605.7 L525.1 605.2 L526 604.6 L526.9 604 L527.7 603.4 L528.6 602.8 L529.5 602.2 L530.3 601.5 L531.2 600.9 L532 600.2 L532.8 599.6 L533.6 598.9 L534.4 598.2 L535.2 597.5 L536 596.8 L536.8 596 L537.6 595.3 L538.3 594.5 L539.1 593.7 L539.9 592.9 L540.6 592.1 L541.3 591.2 L542.1 590.3 L542.8 589.4 L543.5 588.5 L544.2 587.5 L544.9 586.5 L545.6 585.5 L546.3 584.5 L546.9 583.4 L547.6 582.3 L548.2 581.1 L548.9 579.9 L549.5 578.7 L550.2 577.4 L550.8 576.1 L551.4 574.7 L552 573.3 L552.6 571.8 L553.2 570.3 L553.8 568.7 L554.4 567.1 L554.9 565.4 L555.5 563.7 L556.1 561.9 L556.6 560.1 L557.1 558.2 L557.7 556.2 L558.2 554.2 L558.7 552.1 L559.2 550 L559.7 547.8 L560.2 545.5 L560.7 543.2 L561.2 540.9 L561.7 538.5 L562.1 536 L562.6 533.5 L563 531 L563.5 528.4 L563.9 525.8 L564.3 523.1 L564.7 520.4 L565.2 517.7 L565.6 514.9 L566 512.1 L566.3 509.3 L566.7 506.5 L567.1 503.6 L567.5 500.7 L567.8 497.8 L568.2 494.9 L568.5 492 L568.9 489.1 L569.2 486.2 L569.5 483.3 L569.9 480.3 L570.2 477.4 L570.5 474.5 L570.8 471.6 L571.1 468.7 L571.4 465.8 L571.6 462.9 L571.9 460 L572.2 457.2 L572.4 454.4 L572.7 451.6 L572.9 448.9 L573.2 446.2 L573.4 443.5 L573.6 440.8 L573.8 438.2 L574.1 435.7 L574.3 433.2 L574.5 430.7 L574.6 428.3 L574.8 426 L575 423.7 L575.2 421.5 L575.4 419.3 L575.5 417.2 L575.7 415.1 L575.8 413.1 L576 411.2 L576.1 409.4 L576.2 407.6 L576.4 405.9 L576.5 404.3 L576.6 402.7 L576.7 401.2 L576.8 399.8 L576.9 398.5 L577 397.2 L577.1 396 L577.1 394.9 L577.2 393.9 L577.3 392 L577.4 390.5 L577.5 389.2 L577.6 387.8 L577.7 386.8 L577.8 385.7 L577.9 384.3 L578 383.1 L578.1 381.5 L578.2 379.6 L578.3 378.5 L578.3 377.3 L578.4 376.1 L578.5 374.7 L578.6 373.3 L578.7 371.8 L578.8 370.2 L578.9 368.5 L579 366.7 L579.2 364.9 L579.3 362.9 L579.4 360.8 L579.6 358.7 L579.7 356.4 L579.9 354 L580 351.6 L580.2 349 L580.4 346.4 L580.6 343.6 L580.8 340.7 L580.9 337.8 L581.1 334.7 L581.3 331.6 L581.6 328.4 L581.8 325 L582 321.6 L582.2 318.1 L582.5 314.5 L582.7 310.9 L583 307.2 L583.2 303.4 L583.5 299.5 L583.8 295.6 L584 291.6 L584.3 287.6 L584.6 283.6 L584.9 279.5 L585.2 275.4 L585.5 271.3 L585.9 267.2 L586.2 263.1 L586.5 259 L586.9 255 L587.2 250.9 L587.6 247 L587.9 243 L588.3 239.1 L588.7 235.3 L589.1 231.5 L589.4 227.8 L589.8 224.2 L590.2 220.7 L590.7 217.3 L591.1 213.9 L591.5 210.7 L591.9 207.5 L592.4 204.5 L592.8 201.5 L593.3 198.7 L593.7 195.9 L594.2 193.3 L594.7 190.7 L595.2 188.2 L595.7 185.9 L596.2 183.6 L596.7 181.4 L597.2 179.3 L597.7 177.2 L598.3 175.3 L598.8 173.4 L599.3 171.6 L599.9 169.9 L600.5 168.2 L601 166.6 L601.6 165.1 L602.2 163.6 L602.8 162.2 L603.4 160.8 L604 159.5 L604.6 158.2 L605.2 157 L605.9 155.8 L606.5 154.6 L607.2 153.5 L607.8 152.5 L608.5 151.4 L609.1 150.4 L609.8 149.4 L610.5 148.5 L611.2 147.5 L611.9 146.6 L612.6 145.8 L613.3 144.9 L614.1 144.1 L614.8 143.3 L615.5 142.5 L616.3 141.7 L617.1 141 L617.8 140.2 L618.6 139.5 L619.4 138.8 L620.2 138.1 L621 137.4 L621.8 136.7 L622.6 136.1 L623.4 135.5 L624.2 134.8 L625.1 134.2 L625.9 133.6 L626.8 133 L627.7 132.4 L628.5 131.8 L629.4 131.3 L630.3 130.7 L631.2 130.2 L632.1 129.6 L633 129.1 L633.9 128.6 L634.9 128 L635.8 127.5 L636.8 127 L637.7 126.5 L638.7 126 L639.7 125.5 L640.6 125.1 L641.6 124.6 L642.6 124.1 L643.6 123.6 L644.6 123.2 L645.7 122.7 L646.7 122.3 L647.7 121.8 L648.8 121.4 L649.8 121 L650.9 120.5 L652 120.1 L653.1 119.7 L654.2 119.3 L655.3 118.9 L656.4 118.5 L657.5 118 L658.6 117.6 L659.7 117.2 L660.9 116.8 L662 116.5 L663.2 116.1 L664.4 115.7 L665.5 115.3 L666.7 114.9 L667.9 114.5 L669.1 114.2 L670.3 113.8 L671.6 113.4 L672.8 113.1 L674 112.7 L675.3 112.3 L676.5 112 L677.8 111.6 L679.1 111.3 L680.4 110.9 L681.6 110.6 L682.9 110.2 L684.3 109.9 L685.6 109.5 L686.9 109.2 L688.2 108.8 L689.6 108.5 L690.9 108.2 L692.3 107.8 L693.7 107.5 L695 107.2 L696.4 106.9 L697.8 106.5 L699.2 106.2 L700.7 105.9 L702.1 105.6 L703.5 105.2 L705 104.9 L706.4 104.6 L707.9 104.3 L709.3 104 L710.8 103.7 L712.3 103.4 L713.8 103.1 L715.3 102.8 L716.8 102.5 L718.3 102.2 L719.9 101.9 L721.4 101.6 L723 101.3 L724.5 101 L726.1 100.8 L727.7 100.5 L729.3 100.2 L730.9 99.9 L732.5 99.6 L734.1 99.4 L735.7 99.1 L737.3 98.8 L739 98.5 L740.6 98.3 L742.3 98 L744 97.8 L745.6 97.5 L747.3 97.2 L749 97 L750.7 96.7 L752.4 96.5 L754.2 96.2 L755.9 96 L757.6 95.8 L759.4 95.5 L761.2 95.3 L762.9 95.1 L764.7 94.8 L766.5 94.6 L768.3 94.4 L770.1 94.2 L771.9 94 L773.7 93.7 L775.6 93.5 L777.4 93.3 L779.3 93.1 L781.1 92.9 L783 92.7 L784.9 92.5 L786.8 92.3 L788.7 92.2 L790.6 92 L792.5 91.8 L794.5 91.6 L796.4 91.4 L798.3 91.3 L800.3 91.1 L802.3 90.9 L804.2 90.8 L806.2 90.6 L808.2 90.4 L810.2 90.3 L812.3 90.1 L814.3 90 L816.3 89.8 L818.4 89.7 L820.4 89.6 L822.5 89.4 L824.5 89.3 L826.6 89.2 L828.7 89 L830.8 88.9 L832.9 88.8 L835 88.7 L837.2 88.6 L839.3 88.5 L841.5 88.4 L843.6 88.3 L845.8 88.2 L848 88.2 L850.1 88.1 L852.3 88 L854.6 88 L856.8 87.9 L859 87.9 L861.2 87.8 L863.5 87.8 L865.7 87.7 L868 87.7 L870.3 87.7 L872.5 87.6 L874.8 87.6 L877.1 87.6 L879.5 87.6 L881.8 87.5 L884.1 87.4 L886.4 87.2 L888.8 87.1 L891.2 87 L893.5 86.9 L895.9 86.8 L898.3 86.7 L900.7 86.6 L903.1 86.5 L905.5 86.4 L905.7 86.4" stroke="#840000" stroke-width="4.3" stroke-linejoin="round" stroke-linecap="round" fill="none"/>
<path d="M248.3 654.5 L249.9 654.3 L252.3 654.1 L254.7 654 L257.1 653.8 L259.5 653.6 L261.9 653.4 L264.2 653.2 L266.6 653 L269 652.8 L271.3 652.6 L273.6 652.3 L275.9 652.1 L278.3 652 L280.6 651.9 L282.9 651.8 L285.1 651.7 L287.4 651.6 L289.7 651.4 L291.9 651.3 L294.2 651.2 L296.4 651.1 L298.6 650.9 L300.8 650.8 L303.1 650.7 L305.3 650.5 L307.4 650.4 L309.6 650.2 L311.8 650.1 L313.9 649.9 L316.1 649.8 L318.2 649.6 L320.4 649.5 L322.5 649.3 L324.6 649.2 L326.7 649 L328.8 648.8 L330.9 648.7 L332.9 648.5 L335 648.3 L337 648.2 L339.1 648 L341.1 647.8 L343.1 647.6 L345.2 647.5 L347.2 647.3 L349.2 647.1 L351.2 646.9 L353.1 646.7 L355.1 646.5 L357.1 646.3 L359 646.1 L360.9 645.9 L362.9 645.6 L364.8 645.4 L366.7 645.2 L368.6 645 L370.5 644.8 L372.4 644.5 L374.3 644.3 L376.1 644.1 L378 643.9 L379.8 643.6 L381.7 643.4 L383.5 643.1 L385.3 642.9 L387.1 642.7 L388.9 642.4 L390.7 642.2 L392.5 641.9 L394.2 641.7 L396 641.4 L397.8 641.2 L399.5 640.9 L401.2 640.6 L403 640.4 L404.7 640.1 L406.4 639.8 L408.1 639.6 L409.8 639.3 L411.4 639 L413.1 638.7 L414.8 638.5 L416.4 638.2 L418.1 637.9 L419.7 637.6 L421.3 637.3 L422.9 637 L424.5 636.7 L426.1 636.4 L427.7 636.1 L429.3 635.8 L430.9 635.5 L432.4 635.2 L434 634.9 L435.5 634.6 L437.1 634.3 L438.6 634 L440.1 633.7 L441.6 633.4 L443.1 633.1 L444.6 632.7 L446.1 632.4 L447.5 632.1 L449 631.8 L450.4 631.4 L451.9 631.1 L453.3 630.8 L454.7 630.4 L456.2 630.1 L457.6 629.8 L459 629.5 L460.4 629.1 L461.7 628.8 L463.1 628.5 L464.5 628.1 L465.8 627.8 L467.2 627.4 L468.5 627.1 L469.8 626.8 L471.1 626.4 L472.5 626.1 L473.8 625.7 L475 625.4 L476.3 625 L477.6 624.6 L478.9 624.3 L480.1 623.9 L481.4 623.6 L482.6 623.2 L483.8 622.8 L485.1 622.4 L486.3 622.1 L487.5 621.7 L488.7 621.3 L489.9 620.9 L491 620.5 L492.2 620.1 L493.4 619.7 L494.5 619.3 L495.7 618.9 L496.8 618.5 L497.9 618.1 L499 617.7 L500.1 617.3 L501.2 616.9 L502.3 616.4 L503.4 616 L504.5 615.6 L505.6 615.1 L506.6 614.7 L507.7 614.3 L508.7 613.8 L509.7 613.3 L510.8 612.9 L511.8 612.4 L512.8 611.9 L513.8 611.5 L514.8 611 L515.7 610.5 L516.7 610 L517.7 609.5 L518.6 609 L519.6 608.4 L520.5 607.9 L521.5 607.4 L522.4 606.8 L523.3 606.3 L524.2 605.7 L525.1 605.2 L526 604.6 L526.9 604 L527.7 603.4 L528.6 602.8 L529.5 602.2 L530.3 601.5 L531.2 600.9 L532 600.2 L532.8 599.6 L533.6 598.9 L534.4 598.2 L535.2 597.5 L536 596.8 L536.8 596 L537.6 595.3 L538.3 594.5 L539.1 593.7 L539.9 592.9 L540.6 592.1 L541.3 591.2 L542.1 590.3 L542.8 589.4 L543.5 588.5 L544.2 587.5 L544.9 586.5 L545.6 585.5 L546.3 584.5 L546.9 583.4 L547.6 582.2 L548.2 581.1 L548.9 579.9 L549.5 578.6 L550.2 577.3 L550.8 576 L551.4 574.6 L552 573.1 L552.6 571.6 L553.2 570.1 L553.8 568.4 L554.4 566.8 L554.9 565 L555.5 563.2 L556.1 561.2 L556.6 559.2 L557.1 557.2 L557.7 555 L558.2 552.8 L558.7 550.4 L559.2 548 L559.7 545.4 L560.2 542.8 L560.7 540 L561.2 537.2 L561.7 534.2 L562.1 531.2 L562.6 528 L563 524.7 L563.5 521.3 L563.9 517.8 L564.3 514.2 L564.7 510.5 L565.2 506.7 L565.6 502.9 L566 498.9 L566.3 494.8 L566.7 490.7 L567.1 486.5 L567.5 482.3 L567.8 478 L568.2 473.7 L568.5 469.3 L568.9 464.9 L569.2 460.5 L569.5 456.1 L569.9 451.7 L570.2 447.4 L570.5 443 L570.8 438.7 L571.1 434.4 L571.4 430.2 L571.6 426 L571.9 421.9 L572.2 417.9 L572.4 413.9 L572.7 410.1 L572.9 406.3 L573.2 402.6 L573.4 399 L573.6 395.4 L573.8 392 L574.1 388.7 L574.3 385.5 L574.5 382.4 L574.6 379.4 L574.8 376.5 L575 373.7 L575.2 371 L575.4 368.5 L575.5 366 L575.7 363.6 L575.8 361.4 L576 359.2 L576.1 357.1 L576.2 355.1 L576.4 353.3 L576.5 351.5 L576.6 349.8 L576.7 348.2 L576.8 346.7 L576.9 345.3 L577 344 L577.1 342.8 L577.1 341.7 L577.2 340.6 L577.3 338.7 L577.4 337.2 L577.5 335.9 L577.6 334.5 L577.7 333.5 L577.8 332.5 L577.9 331.1 L578 329.9 L578.1 328.3 L578.2 326.5 L578.3 325.5 L578.3 324.5 L578.4 323.3 L578.5 322.1 L578.6 320.8 L578.7 319.4 L578.8 318 L578.9 316.5 L579 314.9 L579.2 313.2 L579.3 311.5 L579.4 309.8 L579.6 307.9 L579.7 306 L579.9 304.1 L580 302 L580.2 300 L580.4 297.8 L580.6 295.6 L580.8 293.4 L580.9 291.1 L581.1 288.8 L581.3 286.4 L581.6 284 L581.8 281.5 L582 279.1 L582.2 276.5 L582.5 274 L582.7 271.4 L583 268.8 L583.2 266.2 L583.5 263.6 L583.8 260.9 L584 258.2 L584.3 255.6 L584.6 252.9 L584.9 250.2 L585.2 247.5 L585.5 244.8 L585.9 242.1 L586.2 239.4 L586.5 236.8 L586.9 234.1 L587.2 231.4 L587.6 228.8 L587.9 226.2 L588.3 223.5 L588.7 221 L589.1 218.4 L589.4 215.8 L589.8 213.3 L590.2 210.8 L590.7 208.4 L591.1 205.9 L591.5 203.5 L591.9 201.2 L592.4 198.8 L592.8 196.6 L593.3 194.3 L593.7 192.1 L594.2 190 L594.7 187.8 L595.2 185.8 L595.7 183.8 L596.2 181.8 L596.7 179.9 L597.2 178 L597.7 176.2 L598.3 174.4 L598.8 172.7 L599.3 171 L599.9 169.4 L600.5 167.8 L601 166.3 L601.6 164.8 L602.2 163.4 L602.8 162 L603.4 160.7 L604 159.4 L604.6 158.1 L605.2 156.9 L605.9 155.7 L606.5 154.6 L607.2 153.5 L607.8 152.4 L608.5 151.4 L609.1 150.4 L609.8 149.4 L610.5 148.5 L611.2 147.5 L611.9 146.6 L612.6 145.8 L613.3 144.9 L614.1 144.1 L614.8 143.3 L615.5 142.5 L616.3 141.7 L617.1 141 L617.8 140.2 L618.6 139.5 L619.4 138.8 L620.2 138.1 L621 137.4 L621.8 136.7 L622.6 136.1 L623.4 135.5 L624.2 134.8 L625.1 134.2 L625.9 133.6 L626.8 133 L627.7 132.4 L628.5 131.8 L629.4 131.3 L630.3 130.7 L631.2 130.2 L632.1 129.6 L633 129.1 L633.9 128.6 L634.9 128 L635.8 127.5 L636.8 127 L637.7 126.5 L638.7 126 L639.7 125.5 L640.6 125.1 L641.6 124.6 L642.6 124.1 L643.6 123.6 L644.6 123.2 L645.7 122.7 L646.7 122.3 L647.7 121.8 L648.8 121.4 L649.8 121 L650.9 120.5 L652 120.1 L653.1 119.7 L654.2 119.3 L655.3 118.9 L656.4 118.5 L657.5 118 L658.6 117.6 L659.7 117.2 L660.9 116.8 L662 116.5 L663.2 116.1 L664.4 115.7 L665.5 115.3 L666.7 114.9 L667.9 114.5 L669.1 114.2 L670.3 113.8 L671.6 113.4 L672.8 113.1 L674 112.7 L675.3 112.3 L676.5 112 L677.8 111.6 L679.1 111.3 L680.4 110.9 L681.6 110.6 L682.9 110.2 L684.3 109.9 L685.6 109.5 L686.9 109.2 L688.2 108.8 L689.6 108.5 L690.9 108.2 L692.3 107.8 L693.7 107.5 L695 107.2 L696.4 106.9 L697.8 106.5 L699.2 106.2 L700.7 105.9 L702.1 105.6 L703.5 105.2 L705 104.9 L706.4 104.6 L707.9 104.3 L709.3 104 L710.8 103.7 L712.3 103.4 L713.8 103.1 L715.3 102.8 L716.8 102.5 L718.3 102.2 L719.9 101.9 L721.4 101.6 L723 101.3 L724.5 101 L726.1 100.8 L727.7 100.5 L729.3 100.2 L730.9 99.9 L732.5 99.6 L734.1 99.4 L735.7 99.1 L737.3 98.8 L739 98.5 L740.6 98.3 L742.3 98 L744 97.8 L745.6 97.5 L747.3 97.2 L749 97 L750.7 96.7 L752.4 96.5 L754.2 96.2 L755.9 96 L757.6 95.7 L759.4 95.5 L761.2 95.3 L762.9 95 L764.7 94.8 L766.5 94.5 L768.3 94.3 L770.1 94.1 L771.9 93.8 L773.7 93.6 L775.6 93.4 L777.4 93.2 L779.3 92.9 L781.1 92.7 L783 92.5 L784.9 92.3 L786.8 92 L788.7 91.8 L790.6 91.6 L792.5 91.4 L794.5 91.2 L796.4 91 L798.3 90.8 L800.3 90.6 L802.3 90.4 L804.2 90.2 L806.2 90 L808.2 89.8 L810.2 89.6 L812.3 89.4 L814.3 89.2 L816.3 89 L818.4 88.8 L820.4 88.6 L822.5 88.4 L824.5 88.3 L826.6 88.1 L828.7 87.9 L830.8 87.7 L832.9 87.5 L835 87.3 L837.2 87.2 L839.3 87 L841.5 86.8 L843.6 86.7 L845.8 86.6 L848 86.4 L850.1 86.3 L852.3 86.2 L854.6 86 L856.8 85.9 L859 85.8 L861.2 85.6 L863.5 85.5 L865.7 85.4 L868 85.2 L870.3 85.1 L872.5 85 L874.8 84.9 L877.1 84.7 L879.5 84.6 L881.8 84.4 L884.1 84.2 L886.4 84 L888.8 83.8 L891.2 83.5 L893.5 83.3 L895.9 83.1 L898.3 82.9 L900.7 82.7 L903.1 82.4 L905.5 82.2 L905.7 82.2" stroke="#840000" stroke-width="4.3" stroke-linejoin="round" stroke-linecap="round" fill="none"/>
<rect x="168.6" y="50.7" width="368.5" height="148.4" fill="#fff" stroke="#333" stroke-width="1.2"/>
<path d="M172 67.2H219.8" stroke="#000" stroke-width="3.8" stroke-linecap="round" stroke-dasharray="0 6.82" fill="none"/>
<text x="232.2" y="74.8" font-size="23.5">MNPs</text>
<path d="M172 96.2H189.2M201 96.2H202.9M214.7 96.2H224" stroke="#ff0000" stroke-width="3.8" stroke-linecap="round" fill="none"/>
<text x="232.2" y="103.8" font-size="23.5">Control (IMNPs)</text>
<path d="M172.1 125.2H224.2" stroke="#0000ff" stroke-width="3.9" stroke-linecap="round" fill="none"/>
<text x="232.2" y="132.8" font-size="23.5">10^4 cell/mL Salmo. - IMNPs</text>
<path d="M172.1 154.2H224.2" stroke="#008000" stroke-width="3.9" stroke-linecap="round" fill="none"/>
<text x="232.2" y="161.8" font-size="23.5">10^5 cell/mL Salmo. - IMNPs</text>
<path d="M172.1 183.2H224.2" stroke="#840000" stroke-width="3.9" stroke-linecap="round" fill="none"/>
<text x="232.2" y="190.8" font-size="23.5">10^7 cell/mL Salmo. - IMNPs</text>
<g font-size="18" font-style="italic">
<text x="248.6" y="543.1" fill="#ff1080">IMNPs</text>
<text x="238.4" y="572.9" fill="#000" text-anchor="end">MNPs</text>
<text x="241.8" y="605.9" fill="#0000ff" text-anchor="end">10^4 cell/mL</text>
<text x="241.4" y="635.3" fill="#008000" text-anchor="end">10^5 cell/mL</text>
<text x="240.8" y="669.6" fill="#840000" text-anchor="end">10^7 cell/mL</text>
<text x="912.8" y="78.5" fill="#840000">10^7 cell/mL</text>
<text x="911.6" y="116.1" fill="#008000">10^5 cell/mL</text>
<text x="910.2" y="148.6" fill="#0000ff">10^4 cell/mL</text>
<text x="914.2" y="178.1" fill="#000">MNPs</text>
<text x="857.3" y="209" fill="#ff1080">IMNPs</text>
</g>
<rect x="661.5" y="386.2" width="324.8" height="281" fill="#fff"/>
<path d="M823.9 386.2V667.2M661.5 526.7H986.3" stroke="#bbb" stroke-width="1" fill="none"/>
<defs><clipPath id="ic"><rect x="661.5" y="386.2" width="324.8" height="281"/></clipPath></defs>
<g clip-path="url(#ic)" fill="none">
<path d="M678 667.2 L746.9 526.8 L817.1 386.2" stroke="#0000ff" stroke-width="1.8"/>
<path d="M805.2 667.2 L813.3 656 L840.8 600 L877 526.7 L947.6 386.2" stroke="#0000ff" stroke-width="1.8"/>
<path d="M688.8 667.2 L750.7 526.8 L818.7 386.2" stroke="#008000" stroke-width="1.8"/>
<path d="M823.8 667.2 L889.7 526.7 L954.3 386.2" stroke="#008000" stroke-width="1.8"/>
<path d="M687 667.2 L745.9 526.8 L809.1 386.2" stroke="#840000" stroke-width="1.8"/>
<path d="M800.4 667.2 L812.1 646.4 L864.1 526.7 L927.3 386.2" stroke="#840000" stroke-width="1.8"/>
<path d="M675.4 667.2 L817.1 386.2" stroke="#ff00ff" stroke-width="1.8"/>
<path d="M784.8 667.2 L811.1 627.3 L831.2 590 L862.7 526.7 L935.9 386.2" stroke="#ff00ff" stroke-width="1.8"/>
<path d="M663 665 L748.8 526.8 L834 386.2" stroke="#000" stroke-width="2.1" stroke-linecap="round" stroke-dasharray="0 5.2"/>
<path d="M785 667.2 L789.1 661.7 L836 596.9 L879.1 528.7 L967.5 386.2" stroke="#000" stroke-width="2.1" stroke-linecap="round" stroke-dasharray="0 5.2"/>
<path d="M661.5 664 L753.6 526.8 L824 421 L854.6 386.2" stroke="#ff0000" stroke-width="2" stroke-dasharray="8 4 2 4"/>
<path d="M773.8 667.2 L808.2 631.1 L832.4 595.7 L858.7 558.6 L881.5 523.9 L974.2 386.2" stroke="#ff0000" stroke-width="2" stroke-dasharray="8 4 2 4"/>
</g>
<path d="M656.5 667.2H661.5M981.3 667.2H986.3M656.5 526.7H661.5M981.3 526.7H986.3M656.5 386.2H661.5M981.3 386.2H986.3M661.5 597H663.5M983.3 597H986.3M661.5 456.5H663.5M983.3 456.5H986.3M661.5 667.2V672.2M661.5 386.2V391.2M823.9 667.2V672.2M823.9 386.2V391.2M986.3 667.2V672.2M986.3 386.2V391.2M742.7 667.2V670.2M742.7 386.2V389.2M905.1 667.2V670.2M905.1 386.2V389.2" stroke="#222" stroke-width="1.4" fill="none"/>
<rect x="661.5" y="386.2" width="324.8" height="281" fill="none" stroke="#222" stroke-width="1.5"/>
<g font-size="10.5" font-weight="bold" fill="#000">
<text transform="translate(653 389.8) scale(1 1.1)" text-anchor="end">5</text>
<text transform="translate(653 530.6) scale(1 1.1)" text-anchor="end">0</text>
<text transform="translate(653 671.4) scale(1 1.1)" text-anchor="end">-5</text>
<text transform="translate(661.8 685.1) scale(1 1.08)" text-anchor="middle">-150</text>
<text transform="translate(823.8 685.1) scale(1 1.08)" text-anchor="middle">0</text>
<text transform="translate(986.2 685.1) scale(1 1.08)" text-anchor="middle">150</text>
</g>
<text x="823.9" y="707.5" font-size="14" font-weight="bold" text-anchor="middle">Field (Oe)</text>
<text transform="translate(628.3 504.4) rotate(-90)" font-size="14" font-weight="bold" text-anchor="middle">Moment/Mass (emu/g)</text>
</svg></body></html>
